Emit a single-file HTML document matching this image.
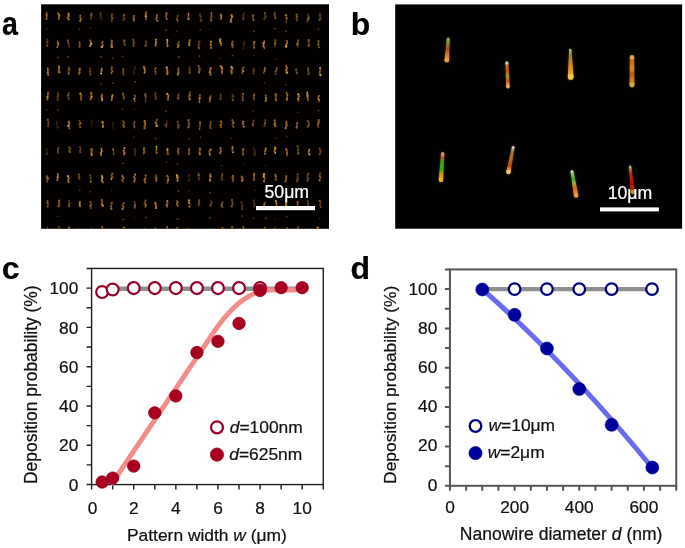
<!DOCTYPE html><html><head><meta charset="utf-8"><style>html,body{margin:0;padding:0;background:#fff;width:685px;height:548px;overflow:hidden}svg{display:block;will-change:transform}text{font-family:"Liberation Sans",sans-serif;white-space:pre}</style></head><body>
<svg width="685" height="548" viewBox="0 0 685 548">
<text transform="translate(2.85,35.40) scale(0.88,1)" x="-0.95" y="0" font-size="32.5" font-weight="bold" fill="#000" stroke="#000" stroke-width="0.22">a</text>
<text transform="translate(352.90,35.10)" x="-2.11" y="0" font-size="32" font-weight="bold" fill="#000" stroke="#000" stroke-width="0.22">b</text>
<text transform="translate(3.00,278.80)" x="-1.25" y="0" font-size="32" font-weight="bold" fill="#000" stroke="#000" stroke-width="0.22">c</text>
<text transform="translate(351.90,278.70)" x="-1.31" y="0" font-size="32" font-weight="bold" fill="#000" stroke="#000" stroke-width="0.22">d</text>
<rect x="41.1" y="4.3" width="287.9" height="224.5" fill="#020100"/>
<defs><filter id="bl" x="-50%" y="-50%" width="200%" height="200%"><feGaussianBlur stdDeviation="0.55"/></filter><filter id="bl2" x="-50%" y="-50%" width="200%" height="200%"><feGaussianBlur stdDeviation="0.55"/></filter></defs>
<clipPath id="ca"><rect x="41.1" y="4.3" width="287.9" height="224.5"/></clipPath><g clip-path="url(#ca)"><g filter="url(#bl)">
<ellipse cx="46.5" cy="13.1" rx="0.84" ry="1.23" fill="rgb(132, 91, 28)"/>
<ellipse cx="46.7" cy="15.0" rx="1.17" ry="1.23" fill="rgb(148, 102, 32)"/>
<ellipse cx="46.7" cy="16.7" rx="0.83" ry="1.23" fill="rgb(148, 110, 62)"/>
<ellipse cx="46.4" cy="19.0" rx="1.19" ry="1.23" fill="rgb(124, 89, 31)"/>
<circle cx="46.6" cy="28.7" r="0.72" fill="rgb(80,62,36)"/>
<ellipse cx="58.2" cy="13.5" rx="1.02" ry="1.18" fill="rgb(158, 100, 30)"/>
<ellipse cx="59.1" cy="15.3" rx="1.00" ry="1.18" fill="rgb(162, 127, 56)"/>
<ellipse cx="59.1" cy="16.9" rx="0.84" ry="1.18" fill="rgb(155, 115, 65)"/>
<ellipse cx="58.7" cy="18.7" rx="0.93" ry="1.18" fill="rgb(156, 93, 24)"/>
<ellipse cx="68.6" cy="13.7" rx="1.19" ry="1.22" fill="rgb(170, 117, 36)"/>
<ellipse cx="68.6" cy="15.8" rx="1.16" ry="1.22" fill="rgb(164, 113, 35)"/>
<ellipse cx="67.9" cy="17.4" rx="1.10" ry="1.22" fill="rgb(155, 92, 24)"/>
<ellipse cx="68.6" cy="19.3" rx="1.11" ry="1.22" fill="rgb(158, 118, 66)"/>
<ellipse cx="80.3" cy="15.6" rx="0.86" ry="1.17" fill="rgb(145, 104, 36)"/>
<ellipse cx="80.2" cy="17.2" rx="1.00" ry="1.17" fill="rgb(104, 81, 36)"/>
<ellipse cx="80.8" cy="19.2" rx="0.93" ry="1.17" fill="rgb(154, 121, 53)"/>
<ellipse cx="80.1" cy="20.9" rx="0.87" ry="1.17" fill="rgb(160, 125, 55)"/>
<circle cx="79.4" cy="29.1" r="0.79" fill="rgb(80,62,36)"/>
<ellipse cx="91.5" cy="13.7" rx="1.23" ry="1.18" fill="rgb(98, 73, 41)"/>
<ellipse cx="91.3" cy="15.6" rx="1.15" ry="1.18" fill="rgb(114, 89, 39)"/>
<ellipse cx="91.3" cy="17.6" rx="0.98" ry="1.18" fill="rgb(90, 71, 31)"/>
<ellipse cx="90.8" cy="19.1" rx="0.89" ry="1.18" fill="rgb(73, 52, 18)"/>
<circle cx="90.5" cy="28.4" r="0.60" fill="rgb(80,62,36)"/>
<ellipse cx="100.6" cy="12.9" rx="1.07" ry="1.34" fill="rgb(66, 39, 10)"/>
<ellipse cx="100.6" cy="14.9" rx="1.01" ry="1.34" fill="rgb(74, 58, 25)"/>
<ellipse cx="100.6" cy="16.9" rx="1.13" ry="1.34" fill="rgb(64, 41, 12)"/>
<ellipse cx="101.3" cy="19.0" rx="1.23" ry="1.34" fill="rgb(43, 30, 9)"/>
<ellipse cx="112.2" cy="14.3" rx="1.21" ry="1.37" fill="rgb(89, 53, 14)"/>
<ellipse cx="111.6" cy="16.1" rx="0.95" ry="1.37" fill="rgb(105, 72, 22)"/>
<ellipse cx="112.3" cy="18.1" rx="1.17" ry="1.37" fill="rgb(110, 79, 27)"/>
<ellipse cx="111.6" cy="20.6" rx="1.13" ry="1.37" fill="rgb(92, 63, 19)"/>
<ellipse cx="124.2" cy="14.6" rx="0.96" ry="1.17" fill="rgb(127, 75, 20)"/>
<ellipse cx="123.6" cy="15.9" rx="1.02" ry="1.17" fill="rgb(104, 74, 26)"/>
<ellipse cx="124.1" cy="18.3" rx="1.09" ry="1.17" fill="rgb(109, 69, 20)"/>
<ellipse cx="123.5" cy="20.0" rx="0.97" ry="1.17" fill="rgb(82, 61, 34)"/>
<ellipse cx="134.0" cy="16.1" rx="1.23" ry="1.08" fill="rgb(133, 104, 46)"/>
<ellipse cx="133.4" cy="17.6" rx="1.07" ry="1.08" fill="rgb(105, 75, 26)"/>
<ellipse cx="134.0" cy="19.1" rx="1.24" ry="1.08" fill="rgb(154, 106, 33)"/>
<ellipse cx="133.6" cy="20.9" rx="0.81" ry="1.08" fill="rgb(136, 93, 29)"/>
<ellipse cx="146.0" cy="12.5" rx="0.93" ry="1.38" fill="rgb(146, 93, 27)"/>
<ellipse cx="145.7" cy="14.6" rx="1.18" ry="1.38" fill="rgb(160, 95, 25)"/>
<ellipse cx="145.9" cy="16.6" rx="1.17" ry="1.38" fill="rgb(187, 146, 64)"/>
<ellipse cx="146.0" cy="19.1" rx="0.87" ry="1.38" fill="rgb(134, 92, 29)"/>
<ellipse cx="156.9" cy="15.1" rx="0.95" ry="1.10" fill="rgb(156, 99, 29)"/>
<ellipse cx="156.8" cy="17.1" rx="0.83" ry="1.10" fill="rgb(180, 115, 34)"/>
<ellipse cx="156.2" cy="18.5" rx="1.05" ry="1.10" fill="rgb(152, 97, 29)"/>
<ellipse cx="157.2" cy="20.7" rx="1.24" ry="1.10" fill="rgb(145, 113, 50)"/>
<ellipse cx="166.4" cy="13.4" rx="1.20" ry="1.22" fill="rgb(161, 96, 25)"/>
<ellipse cx="166.3" cy="15.3" rx="1.00" ry="1.22" fill="rgb(120, 94, 41)"/>
<ellipse cx="166.1" cy="17.0" rx="0.94" ry="1.22" fill="rgb(122, 78, 23)"/>
<ellipse cx="166.7" cy="18.9" rx="0.96" ry="1.22" fill="rgb(139, 103, 58)"/>
<circle cx="166.2" cy="30.1" r="0.90" fill="rgb(80,62,36)"/>
<ellipse cx="177.7" cy="15.8" rx="0.89" ry="1.13" fill="rgb(103, 81, 35)"/>
<ellipse cx="177.3" cy="17.2" rx="1.01" ry="1.13" fill="rgb(99, 63, 18)"/>
<ellipse cx="176.9" cy="19.3" rx="1.03" ry="1.13" fill="rgb(112, 77, 24)"/>
<ellipse cx="177.7" cy="20.5" rx="0.85" ry="1.13" fill="rgb(135, 96, 33)"/>
<circle cx="176.9" cy="31.3" r="0.71" fill="rgb(80,62,36)"/>
<ellipse cx="188.5" cy="14.0" rx="0.95" ry="1.14" fill="rgb(179, 123, 38)"/>
<ellipse cx="188.4" cy="15.8" rx="0.83" ry="1.14" fill="rgb(179, 128, 44)"/>
<ellipse cx="188.2" cy="18.1" rx="1.19" ry="1.14" fill="rgb(137, 81, 21)"/>
<ellipse cx="188.5" cy="19.2" rx="1.25" ry="1.14" fill="rgb(144, 113, 50)"/>
<ellipse cx="200.0" cy="14.7" rx="0.94" ry="1.36" fill="rgb(83, 59, 20)"/>
<ellipse cx="200.6" cy="16.3" rx="1.10" ry="1.36" fill="rgb(87, 52, 13)"/>
<ellipse cx="200.7" cy="18.3" rx="0.81" ry="1.36" fill="rgb(69, 41, 11)"/>
<ellipse cx="200.9" cy="20.6" rx="1.22" ry="1.36" fill="rgb(93, 64, 20)"/>
<circle cx="200.2" cy="29.9" r="0.80" fill="rgb(80,62,36)"/>
<ellipse cx="211.4" cy="13.5" rx="0.86" ry="1.38" fill="rgb(144, 107, 60)"/>
<ellipse cx="211.6" cy="16.1" rx="1.08" ry="1.38" fill="rgb(110, 79, 27)"/>
<ellipse cx="211.0" cy="18.1" rx="1.18" ry="1.38" fill="rgb(113, 72, 21)"/>
<ellipse cx="211.2" cy="20.3" rx="1.11" ry="1.38" fill="rgb(140, 83, 22)"/>
<circle cx="209.8" cy="29.3" r="0.60" fill="rgb(80,62,36)"/>
<ellipse cx="220.7" cy="14.4" rx="0.97" ry="1.07" fill="rgb(146, 105, 36)"/>
<ellipse cx="221.1" cy="15.7" rx="1.15" ry="1.07" fill="rgb(170, 121, 42)"/>
<ellipse cx="221.5" cy="17.1" rx="0.82" ry="1.07" fill="rgb(184, 132, 46)"/>
<ellipse cx="220.8" cy="18.7" rx="1.23" ry="1.07" fill="rgb(154, 110, 38)"/>
<ellipse cx="231.6" cy="15.4" rx="1.09" ry="1.30" fill="rgb(177, 105, 28)"/>
<ellipse cx="232.0" cy="16.9" rx="1.13" ry="1.30" fill="rgb(177, 122, 38)"/>
<ellipse cx="231.1" cy="19.5" rx="1.06" ry="1.30" fill="rgb(188, 129, 40)"/>
<ellipse cx="231.0" cy="21.5" rx="1.20" ry="1.30" fill="rgb(161, 120, 67)"/>
<ellipse cx="243.8" cy="13.3" rx="0.81" ry="1.17" fill="rgb(72, 50, 15)"/>
<ellipse cx="243.1" cy="15.4" rx="1.16" ry="1.17" fill="rgb(67, 40, 10)"/>
<ellipse cx="243.4" cy="17.4" rx="1.04" ry="1.17" fill="rgb(74, 51, 16)"/>
<ellipse cx="243.4" cy="19.2" rx="0.91" ry="1.17" fill="rgb(110, 70, 21)"/>
<ellipse cx="253.2" cy="15.4" rx="1.09" ry="1.08" fill="rgb(145, 92, 27)"/>
<ellipse cx="253.0" cy="16.4" rx="1.11" ry="1.08" fill="rgb(139, 82, 21)"/>
<ellipse cx="253.0" cy="18.5" rx="0.92" ry="1.08" fill="rgb(112, 88, 39)"/>
<ellipse cx="253.7" cy="20.2" rx="1.12" ry="1.08" fill="rgb(125, 93, 52)"/>
<circle cx="253.9" cy="31.3" r="1.00" fill="rgb(80,62,36)"/>
<ellipse cx="264.9" cy="13.5" rx="0.97" ry="1.15" fill="rgb(129, 101, 44)"/>
<ellipse cx="265.4" cy="16.0" rx="0.86" ry="1.15" fill="rgb(103, 66, 19)"/>
<ellipse cx="265.5" cy="17.4" rx="1.08" ry="1.15" fill="rgb(107, 76, 26)"/>
<ellipse cx="264.4" cy="19.0" rx="1.20" ry="1.15" fill="rgb(82, 48, 12)"/>
<ellipse cx="274.7" cy="12.7" rx="0.95" ry="1.15" fill="rgb(108, 64, 17)"/>
<ellipse cx="274.6" cy="14.6" rx="1.22" ry="1.15" fill="rgb(119, 93, 41)"/>
<ellipse cx="275.3" cy="16.7" rx="0.83" ry="1.15" fill="rgb(116, 69, 18)"/>
<ellipse cx="275.3" cy="18.2" rx="0.99" ry="1.15" fill="rgb(130, 83, 25)"/>
<circle cx="274.8" cy="28.6" r="0.93" fill="rgb(80,62,36)"/>
<ellipse cx="286.0" cy="15.3" rx="1.17" ry="1.22" fill="rgb(143, 112, 49)"/>
<ellipse cx="286.7" cy="17.6" rx="1.12" ry="1.22" fill="rgb(117, 81, 25)"/>
<ellipse cx="286.5" cy="19.0" rx="0.86" ry="1.22" fill="rgb(127, 100, 44)"/>
<ellipse cx="286.2" cy="21.5" rx="1.01" ry="1.22" fill="rgb(93, 64, 20)"/>
<circle cx="286.2" cy="31.2" r="0.99" fill="rgb(80,62,36)"/>
<ellipse cx="296.6" cy="14.6" rx="1.17" ry="1.18" fill="rgb(123, 88, 30)"/>
<ellipse cx="297.0" cy="16.7" rx="1.00" ry="1.18" fill="rgb(142, 84, 22)"/>
<ellipse cx="296.6" cy="18.2" rx="1.05" ry="1.18" fill="rgb(102, 65, 19)"/>
<ellipse cx="296.9" cy="20.2" rx="0.81" ry="1.18" fill="rgb(102, 70, 22)"/>
<ellipse cx="308.2" cy="14.8" rx="1.03" ry="1.30" fill="rgb(86, 51, 13)"/>
<ellipse cx="308.5" cy="16.9" rx="1.20" ry="1.30" fill="rgb(91, 65, 22)"/>
<ellipse cx="308.3" cy="18.7" rx="1.18" ry="1.30" fill="rgb(142, 112, 49)"/>
<ellipse cx="307.5" cy="21.1" rx="1.14" ry="1.30" fill="rgb(108, 69, 20)"/>
<ellipse cx="320.0" cy="14.0" rx="0.85" ry="1.36" fill="rgb(90, 70, 31)"/>
<ellipse cx="320.1" cy="15.7" rx="1.17" ry="1.36" fill="rgb(73, 54, 30)"/>
<ellipse cx="320.5" cy="18.3" rx="1.15" ry="1.36" fill="rgb(82, 64, 28)"/>
<ellipse cx="319.6" cy="19.8" rx="1.09" ry="1.36" fill="rgb(117, 80, 25)"/>
<circle cx="318.5" cy="29.2" r="0.85" fill="rgb(80,62,36)"/>
<ellipse cx="47.3" cy="39.7" rx="1.04" ry="1.25" fill="rgb(73, 50, 15)"/>
<ellipse cx="47.4" cy="42.1" rx="1.20" ry="1.25" fill="rgb(99, 59, 15)"/>
<ellipse cx="47.3" cy="43.6" rx="0.99" ry="1.25" fill="rgb(77, 55, 19)"/>
<ellipse cx="47.1" cy="45.7" rx="1.10" ry="1.25" fill="rgb(100, 71, 25)"/>
<ellipse cx="57.6" cy="41.8" rx="0.80" ry="1.07" fill="rgb(159, 118, 66)"/>
<ellipse cx="58.2" cy="43.4" rx="1.24" ry="1.07" fill="rgb(157, 100, 30)"/>
<ellipse cx="58.1" cy="45.0" rx="0.92" ry="1.07" fill="rgb(184, 132, 46)"/>
<ellipse cx="57.3" cy="47.1" rx="0.88" ry="1.07" fill="rgb(181, 124, 39)"/>
<circle cx="58.0" cy="57.6" r="0.98" fill="rgb(80,62,36)"/>
<ellipse cx="67.9" cy="40.6" rx="1.12" ry="1.10" fill="rgb(114, 89, 39)"/>
<ellipse cx="68.0" cy="42.6" rx="0.95" ry="1.10" fill="rgb(136, 86, 26)"/>
<ellipse cx="68.9" cy="44.1" rx="0.94" ry="1.10" fill="rgb(101, 75, 42)"/>
<ellipse cx="68.8" cy="46.3" rx="0.85" ry="1.10" fill="rgb(103, 61, 16)"/>
<circle cx="68.2" cy="56.7" r="0.95" fill="rgb(80,62,36)"/>
<ellipse cx="79.5" cy="42.2" rx="0.97" ry="1.16" fill="rgb(116, 86, 48)"/>
<ellipse cx="79.7" cy="44.1" rx="1.01" ry="1.16" fill="rgb(136, 81, 21)"/>
<ellipse cx="79.7" cy="45.6" rx="0.82" ry="1.16" fill="rgb(133, 99, 55)"/>
<ellipse cx="79.5" cy="46.9" rx="1.14" ry="1.16" fill="rgb(114, 72, 21)"/>
<ellipse cx="90.3" cy="40.7" rx="1.12" ry="1.14" fill="rgb(159, 94, 25)"/>
<ellipse cx="90.9" cy="42.4" rx="0.91" ry="1.14" fill="rgb(143, 91, 27)"/>
<ellipse cx="91.1" cy="44.0" rx="1.21" ry="1.14" fill="rgb(222, 174, 77)"/>
<ellipse cx="90.1" cy="46.1" rx="1.16" ry="1.14" fill="rgb(164, 129, 57)"/>
<ellipse cx="102.6" cy="41.9" rx="0.98" ry="1.16" fill="rgb(152, 97, 29)"/>
<ellipse cx="102.2" cy="43.5" rx="1.05" ry="1.16" fill="rgb(107, 80, 45)"/>
<ellipse cx="102.8" cy="45.4" rx="0.92" ry="1.16" fill="rgb(188, 120, 36)"/>
<ellipse cx="101.8" cy="47.0" rx="1.24" ry="1.16" fill="rgb(196, 153, 68)"/>
<circle cx="100.9" cy="56.8" r="0.96" fill="rgb(80,62,36)"/>
<ellipse cx="111.8" cy="40.8" rx="1.13" ry="1.31" fill="rgb(149, 88, 23)"/>
<ellipse cx="111.8" cy="42.7" rx="0.93" ry="1.31" fill="rgb(150, 107, 37)"/>
<ellipse cx="111.7" cy="45.3" rx="1.25" ry="1.31" fill="rgb(160, 102, 30)"/>
<ellipse cx="111.8" cy="47.0" rx="1.25" ry="1.31" fill="rgb(181, 115, 34)"/>
<circle cx="112.5" cy="58.2" r="0.94" fill="rgb(80,62,36)"/>
<ellipse cx="124.3" cy="40.3" rx="1.19" ry="1.12" fill="rgb(113, 72, 21)"/>
<ellipse cx="123.9" cy="41.6" rx="0.85" ry="1.12" fill="rgb(134, 99, 56)"/>
<ellipse cx="124.3" cy="43.4" rx="0.95" ry="1.12" fill="rgb(95, 68, 23)"/>
<ellipse cx="124.8" cy="44.7" rx="1.09" ry="1.12" fill="rgb(126, 80, 24)"/>
<circle cx="122.5" cy="56.3" r="0.87" fill="rgb(80,62,36)"/>
<ellipse cx="133.3" cy="40.1" rx="0.87" ry="1.23" fill="rgb(125, 98, 43)"/>
<ellipse cx="133.9" cy="42.4" rx="0.98" ry="1.23" fill="rgb(127, 99, 44)"/>
<ellipse cx="133.5" cy="44.1" rx="1.05" ry="1.23" fill="rgb(101, 64, 19)"/>
<ellipse cx="133.6" cy="46.0" rx="0.98" ry="1.23" fill="rgb(112, 67, 17)"/>
<ellipse cx="145.8" cy="41.2" rx="0.82" ry="1.09" fill="rgb(89, 64, 22)"/>
<ellipse cx="146.3" cy="42.6" rx="1.08" ry="1.09" fill="rgb(89, 69, 30)"/>
<ellipse cx="146.0" cy="44.4" rx="0.87" ry="1.09" fill="rgb(101, 72, 25)"/>
<ellipse cx="145.5" cy="45.9" rx="1.16" ry="1.09" fill="rgb(110, 86, 38)"/>
<ellipse cx="156.0" cy="39.6" rx="1.12" ry="1.21" fill="rgb(154, 121, 53)"/>
<ellipse cx="156.0" cy="42.0" rx="0.90" ry="1.21" fill="rgb(193, 143, 80)"/>
<ellipse cx="155.9" cy="43.6" rx="0.90" ry="1.21" fill="rgb(163, 128, 56)"/>
<ellipse cx="155.5" cy="45.5" rx="0.87" ry="1.21" fill="rgb(180, 141, 62)"/>
<ellipse cx="167.3" cy="40.1" rx="1.05" ry="1.27" fill="rgb(196, 153, 68)"/>
<ellipse cx="167.3" cy="42.1" rx="0.91" ry="1.27" fill="rgb(169, 133, 58)"/>
<ellipse cx="167.3" cy="43.8" rx="0.81" ry="1.27" fill="rgb(172, 118, 37)"/>
<ellipse cx="167.5" cy="46.0" rx="1.08" ry="1.27" fill="rgb(178, 128, 44)"/>
<ellipse cx="178.8" cy="42.0" rx="0.82" ry="1.17" fill="rgb(130, 89, 28)"/>
<ellipse cx="177.9" cy="44.0" rx="1.12" ry="1.17" fill="rgb(109, 81, 45)"/>
<ellipse cx="178.7" cy="45.4" rx="1.15" ry="1.17" fill="rgb(147, 115, 51)"/>
<ellipse cx="177.9" cy="47.1" rx="1.17" ry="1.17" fill="rgb(144, 99, 31)"/>
<circle cx="178.8" cy="56.9" r="0.98" fill="rgb(80,62,36)"/>
<ellipse cx="189.7" cy="40.3" rx="1.08" ry="1.08" fill="rgb(158, 113, 39)"/>
<ellipse cx="189.4" cy="42.4" rx="1.21" ry="1.08" fill="rgb(160, 95, 25)"/>
<ellipse cx="189.2" cy="43.5" rx="0.97" ry="1.08" fill="rgb(146, 101, 31)"/>
<ellipse cx="189.3" cy="45.1" rx="1.11" ry="1.08" fill="rgb(188, 140, 78)"/>
<ellipse cx="199.4" cy="41.7" rx="1.11" ry="1.26" fill="rgb(102, 70, 22)"/>
<ellipse cx="198.7" cy="44.1" rx="0.98" ry="1.26" fill="rgb(107, 74, 23)"/>
<ellipse cx="198.7" cy="45.9" rx="0.96" ry="1.26" fill="rgb(100, 59, 15)"/>
<ellipse cx="198.9" cy="47.9" rx="1.23" ry="1.26" fill="rgb(110, 79, 27)"/>
<circle cx="199.6" cy="56.2" r="0.99" fill="rgb(80,62,36)"/>
<ellipse cx="210.9" cy="41.9" rx="1.03" ry="1.30" fill="rgb(160, 119, 66)"/>
<ellipse cx="210.7" cy="44.5" rx="0.82" ry="1.30" fill="rgb(194, 139, 48)"/>
<ellipse cx="211.2" cy="45.8" rx="0.96" ry="1.30" fill="rgb(138, 82, 21)"/>
<ellipse cx="211.2" cy="47.9" rx="0.96" ry="1.30" fill="rgb(146, 101, 31)"/>
<ellipse cx="220.3" cy="39.3" rx="0.98" ry="1.20" fill="rgb(178, 132, 74)"/>
<ellipse cx="220.1" cy="41.3" rx="1.20" ry="1.20" fill="rgb(181, 134, 75)"/>
<ellipse cx="220.8" cy="43.4" rx="1.13" ry="1.20" fill="rgb(205, 141, 44)"/>
<ellipse cx="221.2" cy="45.0" rx="0.81" ry="1.20" fill="rgb(134, 86, 25)"/>
<circle cx="220.6" cy="58.6" r="0.64" fill="rgb(80,62,36)"/>
<ellipse cx="232.6" cy="41.6" rx="0.88" ry="1.22" fill="rgb(133, 104, 46)"/>
<ellipse cx="232.2" cy="43.2" rx="1.13" ry="1.22" fill="rgb(137, 87, 26)"/>
<ellipse cx="232.4" cy="45.3" rx="1.14" ry="1.22" fill="rgb(135, 105, 46)"/>
<ellipse cx="232.7" cy="47.1" rx="1.25" ry="1.22" fill="rgb(97, 76, 33)"/>
<circle cx="232.5" cy="55.5" r="0.96" fill="rgb(80,62,36)"/>
<ellipse cx="244.1" cy="42.4" rx="0.93" ry="1.26" fill="rgb(64, 44, 13)"/>
<ellipse cx="244.3" cy="44.6" rx="0.81" ry="1.26" fill="rgb(62, 40, 12)"/>
<ellipse cx="243.5" cy="46.0" rx="0.87" ry="1.26" fill="rgb(41, 30, 17)"/>
<ellipse cx="243.5" cy="48.4" rx="0.91" ry="1.26" fill="rgb(50, 39, 17)"/>
<ellipse cx="254.4" cy="41.9" rx="1.13" ry="1.21" fill="rgb(152, 97, 29)"/>
<ellipse cx="253.9" cy="43.6" rx="1.06" ry="1.21" fill="rgb(152, 109, 38)"/>
<ellipse cx="253.8" cy="45.4" rx="0.85" ry="1.21" fill="rgb(121, 77, 23)"/>
<ellipse cx="254.0" cy="47.6" rx="0.81" ry="1.21" fill="rgb(176, 126, 44)"/>
<circle cx="254.2" cy="55.1" r="0.63" fill="rgb(80,62,36)"/>
<ellipse cx="264.2" cy="41.8" rx="0.85" ry="1.37" fill="rgb(186, 138, 78)"/>
<ellipse cx="263.5" cy="43.7" rx="1.21" ry="1.37" fill="rgb(204, 130, 39)"/>
<ellipse cx="263.5" cy="46.2" rx="1.01" ry="1.37" fill="rgb(163, 121, 68)"/>
<ellipse cx="264.4" cy="47.8" rx="0.94" ry="1.37" fill="rgb(131, 97, 54)"/>
<ellipse cx="275.4" cy="40.3" rx="0.93" ry="1.18" fill="rgb(116, 80, 25)"/>
<ellipse cx="275.2" cy="42.4" rx="1.15" ry="1.18" fill="rgb(115, 73, 22)"/>
<ellipse cx="275.1" cy="43.9" rx="1.12" ry="1.18" fill="rgb(121, 84, 26)"/>
<ellipse cx="274.9" cy="46.1" rx="0.80" ry="1.18" fill="rgb(94, 56, 14)"/>
<circle cx="276.2" cy="58.9" r="0.60" fill="rgb(80,62,36)"/>
<ellipse cx="287.0" cy="40.9" rx="0.87" ry="1.22" fill="rgb(167, 99, 26)"/>
<ellipse cx="287.1" cy="43.2" rx="0.85" ry="1.22" fill="rgb(174, 125, 43)"/>
<ellipse cx="286.1" cy="44.9" rx="0.85" ry="1.22" fill="rgb(161, 119, 67)"/>
<ellipse cx="286.1" cy="46.5" rx="1.14" ry="1.22" fill="rgb(212, 166, 73)"/>
<ellipse cx="298.3" cy="40.4" rx="1.01" ry="1.23" fill="rgb(96, 72, 40)"/>
<ellipse cx="298.0" cy="42.6" rx="0.96" ry="1.23" fill="rgb(128, 88, 27)"/>
<ellipse cx="297.3" cy="44.3" rx="1.13" ry="1.23" fill="rgb(136, 107, 47)"/>
<ellipse cx="297.6" cy="46.1" rx="0.86" ry="1.23" fill="rgb(119, 70, 18)"/>
<ellipse cx="308.6" cy="40.4" rx="1.13" ry="1.28" fill="rgb(138, 99, 34)"/>
<ellipse cx="308.8" cy="42.2" rx="0.89" ry="1.28" fill="rgb(103, 74, 25)"/>
<ellipse cx="309.3" cy="44.5" rx="1.10" ry="1.28" fill="rgb(92, 58, 17)"/>
<ellipse cx="308.6" cy="45.8" rx="1.13" ry="1.28" fill="rgb(128, 92, 32)"/>
<ellipse cx="318.5" cy="41.2" rx="1.03" ry="1.18" fill="rgb(116, 91, 40)"/>
<ellipse cx="318.6" cy="43.5" rx="1.13" ry="1.18" fill="rgb(91, 65, 22)"/>
<ellipse cx="318.3" cy="44.8" rx="1.06" ry="1.18" fill="rgb(116, 91, 40)"/>
<ellipse cx="319.1" cy="47.1" rx="1.20" ry="1.18" fill="rgb(103, 76, 43)"/>
<ellipse cx="47.8" cy="68.8" rx="0.91" ry="1.20" fill="rgb(189, 121, 36)"/>
<ellipse cx="47.9" cy="70.7" rx="0.99" ry="1.20" fill="rgb(142, 102, 35)"/>
<ellipse cx="47.8" cy="72.6" rx="1.10" ry="1.20" fill="rgb(167, 131, 58)"/>
<ellipse cx="48.1" cy="74.8" rx="0.97" ry="1.20" fill="rgb(170, 101, 26)"/>
<ellipse cx="59.1" cy="66.6" rx="1.01" ry="1.31" fill="rgb(170, 108, 32)"/>
<ellipse cx="59.0" cy="68.0" rx="1.17" ry="1.31" fill="rgb(155, 99, 29)"/>
<ellipse cx="58.9" cy="70.3" rx="1.11" ry="1.31" fill="rgb(130, 102, 45)"/>
<ellipse cx="59.3" cy="72.2" rx="1.08" ry="1.31" fill="rgb(161, 103, 30)"/>
<ellipse cx="68.8" cy="67.3" rx="0.90" ry="1.35" fill="rgb(85, 58, 18)"/>
<ellipse cx="69.1" cy="69.4" rx="1.25" ry="1.35" fill="rgb(118, 81, 25)"/>
<ellipse cx="68.6" cy="71.7" rx="1.15" ry="1.35" fill="rgb(81, 58, 20)"/>
<ellipse cx="68.8" cy="73.7" rx="1.12" ry="1.35" fill="rgb(108, 85, 37)"/>
<ellipse cx="79.6" cy="68.8" rx="1.18" ry="1.19" fill="rgb(130, 97, 54)"/>
<ellipse cx="79.7" cy="70.1" rx="1.11" ry="1.19" fill="rgb(181, 107, 28)"/>
<ellipse cx="79.5" cy="72.4" rx="1.12" ry="1.19" fill="rgb(137, 107, 47)"/>
<ellipse cx="79.0" cy="73.7" rx="1.02" ry="1.19" fill="rgb(150, 89, 23)"/>
<ellipse cx="90.1" cy="68.8" rx="0.86" ry="1.18" fill="rgb(114, 68, 18)"/>
<ellipse cx="90.2" cy="71.2" rx="0.89" ry="1.18" fill="rgb(114, 73, 21)"/>
<ellipse cx="89.8" cy="72.4" rx="0.86" ry="1.18" fill="rgb(84, 58, 18)"/>
<ellipse cx="90.4" cy="74.3" rx="0.89" ry="1.18" fill="rgb(114, 68, 18)"/>
<ellipse cx="101.8" cy="68.8" rx="0.89" ry="1.09" fill="rgb(170, 126, 71)"/>
<ellipse cx="101.8" cy="70.3" rx="1.10" ry="1.09" fill="rgb(170, 126, 71)"/>
<ellipse cx="101.3" cy="71.5" rx="0.86" ry="1.09" fill="rgb(145, 113, 50)"/>
<ellipse cx="101.2" cy="73.5" rx="1.12" ry="1.09" fill="rgb(199, 156, 69)"/>
<circle cx="101.0" cy="84.1" r="0.89" fill="rgb(80,62,36)"/>
<ellipse cx="111.9" cy="67.4" rx="1.09" ry="1.15" fill="rgb(116, 86, 48)"/>
<ellipse cx="111.4" cy="69.3" rx="1.13" ry="1.15" fill="rgb(123, 85, 26)"/>
<ellipse cx="112.3" cy="71.4" rx="1.02" ry="1.15" fill="rgb(161, 103, 30)"/>
<ellipse cx="111.4" cy="73.1" rx="0.86" ry="1.15" fill="rgb(141, 105, 59)"/>
<circle cx="112.9" cy="83.1" r="0.91" fill="rgb(80,62,36)"/>
<ellipse cx="123.3" cy="68.9" rx="0.98" ry="1.14" fill="rgb(131, 77, 20)"/>
<ellipse cx="123.3" cy="71.0" rx="0.89" ry="1.14" fill="rgb(109, 75, 23)"/>
<ellipse cx="123.1" cy="72.7" rx="0.93" ry="1.14" fill="rgb(111, 79, 27)"/>
<ellipse cx="123.7" cy="74.6" rx="1.05" ry="1.14" fill="rgb(113, 72, 21)"/>
<ellipse cx="134.8" cy="67.3" rx="1.21" ry="1.32" fill="rgb(52, 33, 10)"/>
<ellipse cx="134.6" cy="69.4" rx="1.11" ry="1.32" fill="rgb(45, 33, 19)"/>
<ellipse cx="133.9" cy="71.7" rx="1.01" ry="1.32" fill="rgb(49, 31, 9)"/>
<ellipse cx="134.0" cy="73.6" rx="0.99" ry="1.32" fill="rgb(55, 39, 13)"/>
<circle cx="135.2" cy="81.8" r="0.95" fill="rgb(80,62,36)"/>
<ellipse cx="144.0" cy="67.1" rx="1.22" ry="1.12" fill="rgb(171, 118, 36)"/>
<ellipse cx="144.6" cy="68.9" rx="1.15" ry="1.12" fill="rgb(187, 119, 35)"/>
<ellipse cx="144.8" cy="70.9" rx="0.81" ry="1.12" fill="rgb(164, 129, 57)"/>
<ellipse cx="144.6" cy="72.6" rx="1.01" ry="1.12" fill="rgb(183, 136, 76)"/>
<ellipse cx="155.6" cy="68.2" rx="1.19" ry="1.06" fill="rgb(139, 88, 26)"/>
<ellipse cx="154.9" cy="70.0" rx="1.12" ry="1.06" fill="rgb(89, 70, 31)"/>
<ellipse cx="155.6" cy="71.7" rx="0.96" ry="1.06" fill="rgb(138, 99, 34)"/>
<ellipse cx="155.6" cy="73.7" rx="0.84" ry="1.06" fill="rgb(127, 91, 31)"/>
<ellipse cx="166.7" cy="67.5" rx="1.11" ry="1.37" fill="rgb(218, 139, 41)"/>
<ellipse cx="167.2" cy="69.6" rx="0.87" ry="1.37" fill="rgb(193, 115, 30)"/>
<ellipse cx="167.3" cy="71.9" rx="1.23" ry="1.37" fill="rgb(168, 107, 32)"/>
<ellipse cx="167.3" cy="73.9" rx="1.16" ry="1.37" fill="rgb(155, 111, 38)"/>
<ellipse cx="178.4" cy="68.4" rx="0.93" ry="1.31" fill="rgb(120, 83, 26)"/>
<ellipse cx="178.3" cy="70.1" rx="1.07" ry="1.31" fill="rgb(120, 83, 26)"/>
<ellipse cx="178.5" cy="72.4" rx="1.06" ry="1.31" fill="rgb(152, 105, 32)"/>
<ellipse cx="177.8" cy="74.4" rx="1.07" ry="1.31" fill="rgb(151, 118, 52)"/>
<ellipse cx="189.6" cy="67.3" rx="0.86" ry="1.19" fill="rgb(82, 52, 15)"/>
<ellipse cx="189.8" cy="69.4" rx="1.18" ry="1.19" fill="rgb(83, 59, 20)"/>
<ellipse cx="189.5" cy="71.2" rx="0.84" ry="1.19" fill="rgb(88, 69, 30)"/>
<ellipse cx="189.6" cy="72.8" rx="1.12" ry="1.19" fill="rgb(106, 76, 26)"/>
<ellipse cx="198.6" cy="66.2" rx="0.84" ry="1.36" fill="rgb(133, 104, 46)"/>
<ellipse cx="199.5" cy="68.5" rx="1.03" ry="1.36" fill="rgb(127, 91, 31)"/>
<ellipse cx="199.6" cy="70.2" rx="1.07" ry="1.36" fill="rgb(122, 72, 19)"/>
<ellipse cx="198.9" cy="72.2" rx="0.93" ry="1.36" fill="rgb(153, 110, 38)"/>
<ellipse cx="210.6" cy="68.3" rx="1.15" ry="1.36" fill="rgb(177, 105, 28)"/>
<ellipse cx="210.3" cy="70.2" rx="1.07" ry="1.36" fill="rgb(149, 88, 23)"/>
<ellipse cx="209.8" cy="72.2" rx="1.06" ry="1.36" fill="rgb(173, 119, 37)"/>
<ellipse cx="210.5" cy="74.4" rx="1.00" ry="1.36" fill="rgb(148, 116, 51)"/>
<ellipse cx="220.9" cy="66.3" rx="1.19" ry="1.38" fill="rgb(180, 115, 34)"/>
<ellipse cx="222.0" cy="68.4" rx="1.09" ry="1.38" fill="rgb(206, 131, 39)"/>
<ellipse cx="221.8" cy="70.9" rx="1.05" ry="1.38" fill="rgb(154, 98, 29)"/>
<ellipse cx="222.1" cy="72.8" rx="0.88" ry="1.38" fill="rgb(161, 119, 67)"/>
<ellipse cx="231.4" cy="67.1" rx="1.18" ry="1.36" fill="rgb(193, 133, 41)"/>
<ellipse cx="232.3" cy="68.4" rx="1.14" ry="1.36" fill="rgb(166, 124, 69)"/>
<ellipse cx="231.5" cy="70.9" rx="1.22" ry="1.36" fill="rgb(173, 103, 27)"/>
<ellipse cx="231.7" cy="73.1" rx="1.09" ry="1.36" fill="rgb(156, 108, 33)"/>
<ellipse cx="243.3" cy="67.8" rx="1.21" ry="1.20" fill="rgb(126, 80, 24)"/>
<ellipse cx="242.4" cy="69.6" rx="1.08" ry="1.20" fill="rgb(104, 74, 26)"/>
<ellipse cx="243.1" cy="71.1" rx="1.22" ry="1.20" fill="rgb(164, 128, 56)"/>
<ellipse cx="242.3" cy="73.0" rx="0.95" ry="1.20" fill="rgb(125, 80, 24)"/>
<ellipse cx="254.0" cy="68.7" rx="0.87" ry="1.07" fill="rgb(104, 74, 26)"/>
<ellipse cx="253.6" cy="70.1" rx="1.18" ry="1.07" fill="rgb(93, 59, 17)"/>
<ellipse cx="253.5" cy="71.7" rx="1.01" ry="1.07" fill="rgb(89, 69, 30)"/>
<ellipse cx="253.5" cy="73.5" rx="1.20" ry="1.07" fill="rgb(81, 56, 17)"/>
<ellipse cx="264.9" cy="67.9" rx="0.84" ry="1.12" fill="rgb(147, 105, 36)"/>
<ellipse cx="264.8" cy="69.5" rx="1.24" ry="1.12" fill="rgb(139, 88, 26)"/>
<ellipse cx="264.5" cy="71.2" rx="0.95" ry="1.12" fill="rgb(143, 112, 49)"/>
<ellipse cx="263.7" cy="72.9" rx="0.96" ry="1.12" fill="rgb(106, 73, 22)"/>
<circle cx="264.6" cy="82.8" r="0.67" fill="rgb(80,62,36)"/>
<ellipse cx="276.8" cy="68.1" rx="0.92" ry="1.25" fill="rgb(104, 77, 43)"/>
<ellipse cx="276.4" cy="69.5" rx="0.89" ry="1.25" fill="rgb(111, 82, 46)"/>
<ellipse cx="275.7" cy="71.5" rx="0.98" ry="1.25" fill="rgb(116, 86, 48)"/>
<ellipse cx="275.8" cy="73.8" rx="1.18" ry="1.25" fill="rgb(99, 59, 15)"/>
<ellipse cx="286.2" cy="65.9" rx="1.12" ry="1.34" fill="rgb(133, 79, 21)"/>
<ellipse cx="287.0" cy="68.2" rx="1.00" ry="1.34" fill="rgb(173, 103, 27)"/>
<ellipse cx="286.1" cy="70.2" rx="1.17" ry="1.34" fill="rgb(146, 108, 61)"/>
<ellipse cx="286.9" cy="72.6" rx="1.20" ry="1.34" fill="rgb(197, 154, 68)"/>
<circle cx="285.8" cy="84.7" r="0.78" fill="rgb(80,62,36)"/>
<ellipse cx="296.2" cy="69.1" rx="1.17" ry="1.09" fill="rgb(86, 51, 13)"/>
<ellipse cx="296.1" cy="70.3" rx="0.92" ry="1.09" fill="rgb(106, 79, 44)"/>
<ellipse cx="296.8" cy="72.7" rx="1.12" ry="1.09" fill="rgb(110, 86, 38)"/>
<ellipse cx="297.0" cy="73.7" rx="0.92" ry="1.09" fill="rgb(80, 60, 33)"/>
<ellipse cx="308.2" cy="68.4" rx="1.06" ry="1.34" fill="rgb(86, 62, 21)"/>
<ellipse cx="308.1" cy="70.6" rx="0.97" ry="1.34" fill="rgb(124, 79, 23)"/>
<ellipse cx="308.9" cy="72.4" rx="1.24" ry="1.34" fill="rgb(78, 53, 16)"/>
<ellipse cx="308.3" cy="74.2" rx="0.95" ry="1.34" fill="rgb(93, 73, 32)"/>
<ellipse cx="320.1" cy="68.1" rx="0.91" ry="1.33" fill="rgb(202, 150, 84)"/>
<ellipse cx="320.2" cy="70.5" rx="0.88" ry="1.33" fill="rgb(139, 83, 22)"/>
<ellipse cx="319.7" cy="72.4" rx="0.86" ry="1.33" fill="rgb(128, 95, 53)"/>
<ellipse cx="320.4" cy="75.0" rx="1.16" ry="1.33" fill="rgb(202, 158, 70)"/>
<ellipse cx="48.0" cy="92.9" rx="0.91" ry="1.28" fill="rgb(164, 105, 31)"/>
<ellipse cx="47.9" cy="95.0" rx="0.94" ry="1.28" fill="rgb(139, 88, 26)"/>
<ellipse cx="47.5" cy="97.1" rx="1.21" ry="1.28" fill="rgb(187, 129, 40)"/>
<ellipse cx="47.5" cy="99.3" rx="0.87" ry="1.28" fill="rgb(155, 107, 33)"/>
<circle cx="46.6" cy="109.7" r="0.76" fill="rgb(80,62,36)"/>
<ellipse cx="57.9" cy="93.7" rx="1.05" ry="1.33" fill="rgb(86, 64, 36)"/>
<ellipse cx="58.3" cy="95.5" rx="1.01" ry="1.33" fill="rgb(99, 59, 15)"/>
<ellipse cx="57.5" cy="97.5" rx="1.05" ry="1.33" fill="rgb(86, 62, 21)"/>
<ellipse cx="57.7" cy="100.1" rx="1.23" ry="1.33" fill="rgb(79, 46, 12)"/>
<circle cx="57.8" cy="109.6" r="0.95" fill="rgb(80,62,36)"/>
<ellipse cx="68.7" cy="93.1" rx="1.00" ry="1.25" fill="rgb(87, 60, 18)"/>
<ellipse cx="68.1" cy="95.3" rx="1.10" ry="1.25" fill="rgb(118, 84, 29)"/>
<ellipse cx="68.4" cy="97.4" rx="1.10" ry="1.25" fill="rgb(79, 59, 33)"/>
<ellipse cx="69.0" cy="99.1" rx="1.19" ry="1.25" fill="rgb(74, 51, 15)"/>
<ellipse cx="80.3" cy="93.7" rx="1.06" ry="1.28" fill="rgb(181, 142, 63)"/>
<ellipse cx="81.4" cy="95.7" rx="1.18" ry="1.28" fill="rgb(126, 87, 27)"/>
<ellipse cx="81.0" cy="97.5" rx="1.00" ry="1.28" fill="rgb(145, 92, 27)"/>
<ellipse cx="81.1" cy="99.6" rx="1.04" ry="1.28" fill="rgb(135, 80, 21)"/>
<ellipse cx="91.1" cy="93.0" rx="0.97" ry="1.18" fill="rgb(164, 117, 41)"/>
<ellipse cx="91.5" cy="94.8" rx="1.18" ry="1.18" fill="rgb(143, 85, 22)"/>
<ellipse cx="91.6" cy="97.1" rx="1.20" ry="1.18" fill="rgb(208, 149, 52)"/>
<ellipse cx="90.5" cy="99.0" rx="1.02" ry="1.18" fill="rgb(161, 96, 25)"/>
<ellipse cx="102.0" cy="94.8" rx="1.10" ry="1.22" fill="rgb(140, 83, 22)"/>
<ellipse cx="101.6" cy="96.5" rx="0.84" ry="1.22" fill="rgb(193, 123, 37)"/>
<ellipse cx="102.1" cy="98.4" rx="0.87" ry="1.22" fill="rgb(228, 157, 49)"/>
<ellipse cx="102.1" cy="100.1" rx="1.08" ry="1.22" fill="rgb(193, 151, 67)"/>
<ellipse cx="112.7" cy="95.2" rx="1.10" ry="1.16" fill="rgb(143, 99, 30)"/>
<ellipse cx="112.1" cy="96.4" rx="0.99" ry="1.16" fill="rgb(202, 139, 43)"/>
<ellipse cx="112.0" cy="98.1" rx="1.20" ry="1.16" fill="rgb(146, 100, 31)"/>
<ellipse cx="111.7" cy="100.1" rx="0.96" ry="1.16" fill="rgb(179, 123, 38)"/>
<ellipse cx="123.1" cy="93.5" rx="0.84" ry="1.16" fill="rgb(118, 70, 18)"/>
<ellipse cx="123.1" cy="94.8" rx="1.05" ry="1.16" fill="rgb(135, 96, 33)"/>
<ellipse cx="123.9" cy="96.7" rx="0.86" ry="1.16" fill="rgb(131, 90, 28)"/>
<ellipse cx="123.8" cy="98.5" rx="1.14" ry="1.16" fill="rgb(112, 80, 28)"/>
<circle cx="122.6" cy="109.2" r="0.81" fill="rgb(80,62,36)"/>
<ellipse cx="134.7" cy="95.5" rx="0.92" ry="1.06" fill="rgb(137, 102, 57)"/>
<ellipse cx="135.0" cy="96.6" rx="0.89" ry="1.06" fill="rgb(133, 92, 28)"/>
<ellipse cx="134.3" cy="98.7" rx="1.06" ry="1.06" fill="rgb(208, 149, 52)"/>
<ellipse cx="134.8" cy="100.6" rx="0.90" ry="1.06" fill="rgb(148, 102, 31)"/>
<circle cx="134.5" cy="109.2" r="0.60" fill="rgb(80,62,36)"/>
<ellipse cx="145.3" cy="94.6" rx="1.12" ry="1.34" fill="rgb(115, 85, 48)"/>
<ellipse cx="145.6" cy="96.0" rx="1.16" ry="1.34" fill="rgb(120, 89, 50)"/>
<ellipse cx="145.5" cy="98.1" rx="0.80" ry="1.34" fill="rgb(118, 70, 18)"/>
<ellipse cx="145.7" cy="100.7" rx="1.04" ry="1.34" fill="rgb(102, 60, 16)"/>
<ellipse cx="155.5" cy="93.2" rx="1.00" ry="1.17" fill="rgb(90, 53, 14)"/>
<ellipse cx="155.3" cy="95.0" rx="0.86" ry="1.17" fill="rgb(92, 66, 23)"/>
<ellipse cx="155.9" cy="96.8" rx="1.01" ry="1.17" fill="rgb(108, 77, 27)"/>
<ellipse cx="155.6" cy="99.0" rx="1.13" ry="1.17" fill="rgb(90, 54, 14)"/>
<ellipse cx="167.3" cy="93.9" rx="1.07" ry="1.13" fill="rgb(211, 157, 88)"/>
<ellipse cx="168.3" cy="95.6" rx="1.07" ry="1.13" fill="rgb(161, 111, 34)"/>
<ellipse cx="168.2" cy="97.2" rx="0.84" ry="1.13" fill="rgb(202, 129, 38)"/>
<ellipse cx="168.0" cy="99.4" rx="1.12" ry="1.13" fill="rgb(149, 117, 51)"/>
<circle cx="166.0" cy="111.4" r="0.88" fill="rgb(80,62,36)"/>
<ellipse cx="178.7" cy="94.4" rx="1.12" ry="1.08" fill="rgb(88, 52, 13)"/>
<ellipse cx="178.1" cy="95.4" rx="0.96" ry="1.08" fill="rgb(95, 71, 40)"/>
<ellipse cx="178.3" cy="97.7" rx="1.19" ry="1.08" fill="rgb(119, 88, 50)"/>
<ellipse cx="178.0" cy="98.8" rx="1.16" ry="1.08" fill="rgb(102, 65, 19)"/>
<ellipse cx="189.9" cy="92.7" rx="0.85" ry="1.38" fill="rgb(136, 87, 26)"/>
<ellipse cx="189.7" cy="95.3" rx="0.98" ry="1.38" fill="rgb(160, 119, 67)"/>
<ellipse cx="189.3" cy="97.1" rx="1.13" ry="1.38" fill="rgb(127, 75, 20)"/>
<ellipse cx="189.6" cy="99.2" rx="0.90" ry="1.38" fill="rgb(170, 122, 42)"/>
<ellipse cx="199.9" cy="95.2" rx="0.82" ry="1.36" fill="rgb(129, 96, 54)"/>
<ellipse cx="199.7" cy="97.9" rx="1.11" ry="1.36" fill="rgb(194, 124, 37)"/>
<ellipse cx="199.4" cy="99.4" rx="0.84" ry="1.36" fill="rgb(167, 99, 26)"/>
<ellipse cx="199.5" cy="102.0" rx="0.90" ry="1.36" fill="rgb(152, 113, 64)"/>
<ellipse cx="210.6" cy="96.1" rx="0.82" ry="1.22" fill="rgb(121, 90, 50)"/>
<ellipse cx="210.1" cy="98.0" rx="1.15" ry="1.22" fill="rgb(156, 107, 33)"/>
<ellipse cx="209.8" cy="99.7" rx="1.05" ry="1.22" fill="rgb(143, 106, 60)"/>
<ellipse cx="209.8" cy="101.3" rx="0.92" ry="1.22" fill="rgb(108, 80, 45)"/>
<ellipse cx="220.7" cy="94.6" rx="0.91" ry="1.10" fill="rgb(91, 71, 31)"/>
<ellipse cx="220.7" cy="96.1" rx="0.93" ry="1.10" fill="rgb(85, 63, 35)"/>
<ellipse cx="220.3" cy="98.1" rx="1.08" ry="1.10" fill="rgb(86, 59, 18)"/>
<ellipse cx="220.6" cy="99.2" rx="0.87" ry="1.10" fill="rgb(111, 79, 27)"/>
<ellipse cx="232.3" cy="94.7" rx="0.85" ry="1.06" fill="rgb(95, 56, 15)"/>
<ellipse cx="233.4" cy="96.2" rx="1.01" ry="1.06" fill="rgb(104, 74, 26)"/>
<ellipse cx="232.4" cy="97.8" rx="1.01" ry="1.06" fill="rgb(87, 55, 16)"/>
<ellipse cx="232.8" cy="100.0" rx="1.24" ry="1.06" fill="rgb(113, 84, 47)"/>
<ellipse cx="242.9" cy="94.1" rx="1.08" ry="1.23" fill="rgb(110, 82, 46)"/>
<ellipse cx="242.6" cy="96.6" rx="0.86" ry="1.23" fill="rgb(108, 80, 45)"/>
<ellipse cx="242.7" cy="97.9" rx="0.88" ry="1.23" fill="rgb(123, 88, 30)"/>
<ellipse cx="242.8" cy="100.3" rx="1.15" ry="1.23" fill="rgb(103, 76, 43)"/>
<ellipse cx="254.4" cy="94.1" rx="0.91" ry="1.16" fill="rgb(120, 71, 19)"/>
<ellipse cx="253.9" cy="95.6" rx="1.25" ry="1.16" fill="rgb(120, 90, 50)"/>
<ellipse cx="253.8" cy="97.7" rx="1.02" ry="1.16" fill="rgb(111, 80, 27)"/>
<ellipse cx="254.1" cy="99.3" rx="0.86" ry="1.16" fill="rgb(115, 79, 24)"/>
<circle cx="253.2" cy="111.1" r="0.76" fill="rgb(80,62,36)"/>
<ellipse cx="265.8" cy="95.4" rx="0.93" ry="1.18" fill="rgb(132, 91, 28)"/>
<ellipse cx="265.7" cy="97.7" rx="0.83" ry="1.18" fill="rgb(172, 135, 59)"/>
<ellipse cx="266.2" cy="99.0" rx="0.87" ry="1.18" fill="rgb(170, 121, 42)"/>
<ellipse cx="265.6" cy="101.0" rx="1.06" ry="1.18" fill="rgb(149, 102, 32)"/>
<ellipse cx="275.7" cy="94.3" rx="1.17" ry="1.26" fill="rgb(140, 96, 30)"/>
<ellipse cx="276.0" cy="96.1" rx="1.05" ry="1.26" fill="rgb(142, 98, 30)"/>
<ellipse cx="275.6" cy="98.4" rx="0.93" ry="1.26" fill="rgb(131, 97, 55)"/>
<ellipse cx="276.2" cy="100.2" rx="0.90" ry="1.26" fill="rgb(156, 100, 30)"/>
<ellipse cx="286.6" cy="93.1" rx="0.85" ry="1.36" fill="rgb(147, 115, 51)"/>
<ellipse cx="287.4" cy="95.0" rx="0.90" ry="1.36" fill="rgb(165, 113, 35)"/>
<ellipse cx="287.1" cy="97.7" rx="0.91" ry="1.36" fill="rgb(154, 110, 38)"/>
<ellipse cx="287.0" cy="99.5" rx="1.11" ry="1.36" fill="rgb(155, 111, 38)"/>
<ellipse cx="298.2" cy="94.3" rx="1.14" ry="1.32" fill="rgb(192, 132, 41)"/>
<ellipse cx="298.8" cy="96.3" rx="1.01" ry="1.32" fill="rgb(162, 121, 68)"/>
<ellipse cx="298.2" cy="98.8" rx="1.15" ry="1.32" fill="rgb(185, 133, 46)"/>
<ellipse cx="298.5" cy="100.4" rx="0.82" ry="1.32" fill="rgb(168, 107, 32)"/>
<circle cx="297.9" cy="112.3" r="0.78" fill="rgb(80,62,36)"/>
<ellipse cx="307.2" cy="92.9" rx="0.88" ry="1.38" fill="rgb(196, 146, 82)"/>
<ellipse cx="307.5" cy="95.5" rx="1.17" ry="1.38" fill="rgb(181, 134, 75)"/>
<ellipse cx="307.5" cy="97.1" rx="0.96" ry="1.38" fill="rgb(168, 125, 70)"/>
<ellipse cx="308.0" cy="99.5" rx="1.05" ry="1.38" fill="rgb(138, 82, 21)"/>
<ellipse cx="318.9" cy="96.1" rx="1.16" ry="1.12" fill="rgb(152, 104, 32)"/>
<ellipse cx="318.0" cy="97.8" rx="1.05" ry="1.12" fill="rgb(127, 75, 20)"/>
<ellipse cx="318.7" cy="99.4" rx="1.06" ry="1.12" fill="rgb(192, 150, 66)"/>
<ellipse cx="319.1" cy="101.1" rx="0.81" ry="1.12" fill="rgb(182, 108, 28)"/>
<circle cx="318.5" cy="110.5" r="0.95" fill="rgb(80,62,36)"/>
<ellipse cx="47.8" cy="119.8" rx="1.00" ry="1.28" fill="rgb(122, 87, 30)"/>
<ellipse cx="48.4" cy="121.6" rx="0.95" ry="1.28" fill="rgb(85, 59, 18)"/>
<ellipse cx="48.3" cy="123.5" rx="0.90" ry="1.28" fill="rgb(114, 79, 24)"/>
<ellipse cx="48.1" cy="126.0" rx="0.97" ry="1.28" fill="rgb(107, 63, 16)"/>
<ellipse cx="56.7" cy="122.0" rx="0.86" ry="1.21" fill="rgb(63, 45, 15)"/>
<ellipse cx="56.8" cy="123.4" rx="1.06" ry="1.21" fill="rgb(49, 29, 7)"/>
<ellipse cx="56.9" cy="125.4" rx="1.05" ry="1.21" fill="rgb(39, 29, 16)"/>
<ellipse cx="57.7" cy="127.4" rx="1.09" ry="1.21" fill="rgb(62, 48, 21)"/>
<ellipse cx="69.0" cy="122.0" rx="1.18" ry="1.28" fill="rgb(152, 113, 63)"/>
<ellipse cx="69.1" cy="123.9" rx="0.83" ry="1.28" fill="rgb(155, 116, 65)"/>
<ellipse cx="68.4" cy="125.9" rx="1.20" ry="1.28" fill="rgb(186, 146, 64)"/>
<ellipse cx="69.3" cy="128.3" rx="0.80" ry="1.28" fill="rgb(150, 107, 37)"/>
<ellipse cx="79.6" cy="121.1" rx="1.06" ry="1.11" fill="rgb(123, 73, 19)"/>
<ellipse cx="80.4" cy="123.3" rx="1.06" ry="1.11" fill="rgb(178, 113, 34)"/>
<ellipse cx="79.5" cy="124.5" rx="1.01" ry="1.11" fill="rgb(135, 93, 29)"/>
<ellipse cx="80.1" cy="127.0" rx="0.83" ry="1.11" fill="rgb(159, 118, 66)"/>
<ellipse cx="91.8" cy="120.8" rx="1.00" ry="1.11" fill="rgb(41, 30, 10)"/>
<ellipse cx="91.3" cy="123.0" rx="0.89" ry="1.11" fill="rgb(55, 38, 12)"/>
<ellipse cx="92.1" cy="124.5" rx="0.83" ry="1.11" fill="rgb(40, 27, 8)"/>
<ellipse cx="91.6" cy="126.3" rx="0.88" ry="1.11" fill="rgb(39, 29, 16)"/>
<ellipse cx="102.5" cy="122.1" rx="1.16" ry="1.16" fill="rgb(201, 157, 69)"/>
<ellipse cx="102.8" cy="123.4" rx="1.08" ry="1.16" fill="rgb(146, 93, 28)"/>
<ellipse cx="102.9" cy="125.7" rx="1.01" ry="1.16" fill="rgb(168, 132, 58)"/>
<ellipse cx="102.9" cy="126.9" rx="0.94" ry="1.16" fill="rgb(194, 134, 41)"/>
<ellipse cx="113.3" cy="122.6" rx="0.99" ry="1.12" fill="rgb(52, 31, 8)"/>
<ellipse cx="113.0" cy="124.4" rx="1.24" ry="1.12" fill="rgb(39, 27, 8)"/>
<ellipse cx="112.6" cy="126.1" rx="1.12" ry="1.12" fill="rgb(41, 28, 9)"/>
<ellipse cx="113.3" cy="128.0" rx="1.05" ry="1.12" fill="rgb(48, 29, 7)"/>
<ellipse cx="123.1" cy="121.2" rx="1.08" ry="1.14" fill="rgb(113, 67, 17)"/>
<ellipse cx="124.1" cy="122.8" rx="0.86" ry="1.14" fill="rgb(153, 97, 29)"/>
<ellipse cx="123.2" cy="124.7" rx="1.07" ry="1.14" fill="rgb(130, 93, 32)"/>
<ellipse cx="124.0" cy="126.6" rx="1.15" ry="1.14" fill="rgb(154, 115, 64)"/>
<ellipse cx="134.5" cy="122.5" rx="0.95" ry="1.13" fill="rgb(138, 108, 48)"/>
<ellipse cx="133.6" cy="124.3" rx="1.16" ry="1.13" fill="rgb(94, 70, 39)"/>
<ellipse cx="134.2" cy="126.0" rx="1.05" ry="1.13" fill="rgb(100, 59, 15)"/>
<ellipse cx="134.5" cy="127.3" rx="0.90" ry="1.13" fill="rgb(131, 97, 55)"/>
<circle cx="133.8" cy="137.0" r="0.69" fill="rgb(80,62,36)"/>
<ellipse cx="144.7" cy="121.5" rx="1.22" ry="1.38" fill="rgb(157, 112, 39)"/>
<ellipse cx="145.2" cy="124.1" rx="0.93" ry="1.38" fill="rgb(183, 131, 45)"/>
<ellipse cx="144.6" cy="125.9" rx="1.11" ry="1.38" fill="rgb(132, 95, 33)"/>
<ellipse cx="144.6" cy="128.2" rx="1.15" ry="1.38" fill="rgb(120, 82, 25)"/>
<ellipse cx="157.0" cy="119.8" rx="0.85" ry="1.20" fill="rgb(118, 88, 49)"/>
<ellipse cx="155.9" cy="122.3" rx="1.13" ry="1.20" fill="rgb(132, 78, 20)"/>
<ellipse cx="156.1" cy="123.4" rx="0.99" ry="1.20" fill="rgb(146, 109, 61)"/>
<ellipse cx="156.7" cy="125.7" rx="1.24" ry="1.20" fill="rgb(208, 163, 72)"/>
<circle cx="155.5" cy="138.4" r="0.88" fill="rgb(80,62,36)"/>
<ellipse cx="166.7" cy="121.3" rx="0.85" ry="1.09" fill="rgb(85, 50, 13)"/>
<ellipse cx="166.7" cy="123.7" rx="0.88" ry="1.09" fill="rgb(109, 75, 23)"/>
<ellipse cx="165.7" cy="125.2" rx="1.25" ry="1.09" fill="rgb(107, 79, 44)"/>
<ellipse cx="166.5" cy="126.7" rx="0.90" ry="1.09" fill="rgb(106, 67, 20)"/>
<ellipse cx="178.0" cy="121.9" rx="1.16" ry="1.14" fill="rgb(91, 62, 19)"/>
<ellipse cx="178.2" cy="124.4" rx="1.09" ry="1.14" fill="rgb(122, 72, 19)"/>
<ellipse cx="178.6" cy="125.8" rx="1.25" ry="1.14" fill="rgb(103, 77, 43)"/>
<ellipse cx="178.2" cy="127.7" rx="0.99" ry="1.14" fill="rgb(112, 88, 39)"/>
<ellipse cx="188.6" cy="120.3" rx="1.13" ry="1.38" fill="rgb(136, 81, 21)"/>
<ellipse cx="188.9" cy="123.2" rx="1.18" ry="1.38" fill="rgb(98, 73, 41)"/>
<ellipse cx="189.0" cy="125.1" rx="1.05" ry="1.38" fill="rgb(126, 80, 24)"/>
<ellipse cx="188.4" cy="127.2" rx="1.24" ry="1.38" fill="rgb(110, 81, 46)"/>
<circle cx="189.2" cy="138.7" r="0.80" fill="rgb(80,62,36)"/>
<ellipse cx="200.0" cy="122.6" rx="0.92" ry="1.30" fill="rgb(147, 115, 51)"/>
<ellipse cx="200.1" cy="124.8" rx="1.04" ry="1.30" fill="rgb(121, 77, 23)"/>
<ellipse cx="199.9" cy="126.4" rx="1.18" ry="1.30" fill="rgb(95, 56, 15)"/>
<ellipse cx="199.5" cy="128.9" rx="0.90" ry="1.30" fill="rgb(111, 77, 24)"/>
<circle cx="200.4" cy="137.4" r="0.81" fill="rgb(80,62,36)"/>
<ellipse cx="210.7" cy="122.0" rx="0.82" ry="1.32" fill="rgb(124, 92, 51)"/>
<ellipse cx="210.9" cy="124.0" rx="0.87" ry="1.32" fill="rgb(98, 76, 34)"/>
<ellipse cx="210.0" cy="125.9" rx="1.04" ry="1.32" fill="rgb(117, 69, 18)"/>
<ellipse cx="210.7" cy="128.0" rx="1.25" ry="1.32" fill="rgb(103, 61, 16)"/>
<ellipse cx="221.1" cy="121.7" rx="1.08" ry="1.10" fill="rgb(182, 125, 39)"/>
<ellipse cx="221.6" cy="123.3" rx="0.89" ry="1.10" fill="rgb(123, 73, 19)"/>
<ellipse cx="220.7" cy="125.0" rx="1.05" ry="1.10" fill="rgb(158, 113, 39)"/>
<ellipse cx="220.9" cy="127.0" rx="0.84" ry="1.10" fill="rgb(187, 111, 29)"/>
<ellipse cx="232.3" cy="120.3" rx="0.82" ry="1.26" fill="rgb(130, 102, 45)"/>
<ellipse cx="233.4" cy="122.5" rx="1.16" ry="1.26" fill="rgb(149, 117, 51)"/>
<ellipse cx="232.7" cy="124.1" rx="1.08" ry="1.26" fill="rgb(108, 74, 23)"/>
<ellipse cx="233.3" cy="126.6" rx="1.10" ry="1.26" fill="rgb(123, 85, 26)"/>
<circle cx="231.3" cy="138.3" r="0.75" fill="rgb(80,62,36)"/>
<ellipse cx="243.1" cy="121.8" rx="1.00" ry="1.06" fill="rgb(207, 162, 72)"/>
<ellipse cx="242.7" cy="123.7" rx="1.02" ry="1.06" fill="rgb(176, 112, 33)"/>
<ellipse cx="243.5" cy="125.0" rx="0.89" ry="1.06" fill="rgb(144, 107, 60)"/>
<ellipse cx="243.6" cy="126.7" rx="1.15" ry="1.06" fill="rgb(175, 104, 27)"/>
<ellipse cx="253.6" cy="120.5" rx="1.17" ry="1.09" fill="rgb(95, 65, 20)"/>
<ellipse cx="253.1" cy="122.3" rx="1.14" ry="1.09" fill="rgb(101, 64, 19)"/>
<ellipse cx="252.8" cy="124.5" rx="1.19" ry="1.09" fill="rgb(119, 93, 41)"/>
<ellipse cx="253.1" cy="125.6" rx="0.88" ry="1.09" fill="rgb(120, 83, 26)"/>
<ellipse cx="265.3" cy="120.2" rx="0.94" ry="1.15" fill="rgb(92, 69, 38)"/>
<ellipse cx="265.2" cy="122.3" rx="0.89" ry="1.15" fill="rgb(112, 77, 24)"/>
<ellipse cx="264.9" cy="123.5" rx="1.10" ry="1.15" fill="rgb(148, 88, 23)"/>
<ellipse cx="264.4" cy="125.8" rx="1.21" ry="1.15" fill="rgb(104, 62, 16)"/>
<ellipse cx="274.6" cy="120.6" rx="1.12" ry="1.24" fill="rgb(135, 106, 46)"/>
<ellipse cx="275.0" cy="122.9" rx="1.13" ry="1.24" fill="rgb(143, 112, 49)"/>
<ellipse cx="274.5" cy="124.3" rx="1.09" ry="1.24" fill="rgb(142, 102, 35)"/>
<ellipse cx="275.3" cy="126.1" rx="1.02" ry="1.24" fill="rgb(166, 106, 31)"/>
<circle cx="276.1" cy="138.2" r="0.67" fill="rgb(80,62,36)"/>
<ellipse cx="286.4" cy="121.7" rx="0.85" ry="1.23" fill="rgb(130, 96, 54)"/>
<ellipse cx="286.4" cy="123.6" rx="1.10" ry="1.23" fill="rgb(159, 101, 30)"/>
<ellipse cx="286.6" cy="125.6" rx="1.19" ry="1.23" fill="rgb(146, 108, 61)"/>
<ellipse cx="285.6" cy="128.0" rx="0.93" ry="1.23" fill="rgb(197, 141, 49)"/>
<circle cx="286.7" cy="136.6" r="0.82" fill="rgb(80,62,36)"/>
<ellipse cx="297.4" cy="123.1" rx="0.95" ry="1.11" fill="rgb(158, 124, 55)"/>
<ellipse cx="296.6" cy="124.3" rx="0.84" ry="1.11" fill="rgb(115, 86, 48)"/>
<ellipse cx="297.1" cy="126.2" rx="0.98" ry="1.11" fill="rgb(118, 92, 41)"/>
<ellipse cx="296.6" cy="127.6" rx="1.25" ry="1.11" fill="rgb(136, 101, 57)"/>
<ellipse cx="307.9" cy="121.1" rx="0.94" ry="1.22" fill="rgb(117, 91, 40)"/>
<ellipse cx="308.7" cy="122.7" rx="0.92" ry="1.22" fill="rgb(106, 76, 26)"/>
<ellipse cx="308.8" cy="124.8" rx="0.93" ry="1.22" fill="rgb(133, 95, 33)"/>
<ellipse cx="307.9" cy="126.4" rx="1.22" ry="1.22" fill="rgb(116, 74, 22)"/>
<ellipse cx="318.7" cy="120.4" rx="1.13" ry="1.30" fill="rgb(148, 88, 23)"/>
<ellipse cx="318.7" cy="122.6" rx="1.07" ry="1.30" fill="rgb(155, 99, 29)"/>
<ellipse cx="317.8" cy="124.6" rx="0.99" ry="1.30" fill="rgb(139, 96, 30)"/>
<ellipse cx="318.3" cy="126.8" rx="1.13" ry="1.30" fill="rgb(102, 60, 16)"/>
<ellipse cx="46.8" cy="148.8" rx="1.20" ry="1.27" fill="rgb(34, 20, 5)"/>
<ellipse cx="47.0" cy="150.2" rx="0.95" ry="1.27" fill="rgb(45, 31, 9)"/>
<ellipse cx="47.1" cy="152.2" rx="0.97" ry="1.27" fill="rgb(45, 28, 8)"/>
<ellipse cx="46.9" cy="154.1" rx="1.21" ry="1.27" fill="rgb(57, 40, 14)"/>
<ellipse cx="58.5" cy="147.9" rx="0.90" ry="1.07" fill="rgb(112, 80, 28)"/>
<ellipse cx="57.8" cy="149.5" rx="0.99" ry="1.07" fill="rgb(118, 70, 18)"/>
<ellipse cx="57.8" cy="151.1" rx="0.84" ry="1.07" fill="rgb(118, 81, 25)"/>
<ellipse cx="57.9" cy="152.7" rx="1.03" ry="1.07" fill="rgb(112, 77, 24)"/>
<ellipse cx="69.2" cy="147.3" rx="1.16" ry="1.13" fill="rgb(109, 64, 17)"/>
<ellipse cx="70.1" cy="148.8" rx="1.22" ry="1.13" fill="rgb(113, 72, 21)"/>
<ellipse cx="69.1" cy="150.8" rx="1.03" ry="1.13" fill="rgb(105, 75, 26)"/>
<ellipse cx="70.0" cy="152.0" rx="1.22" ry="1.13" fill="rgb(109, 78, 27)"/>
<ellipse cx="80.1" cy="147.2" rx="1.09" ry="1.07" fill="rgb(102, 65, 19)"/>
<ellipse cx="80.5" cy="148.6" rx="0.84" ry="1.07" fill="rgb(98, 58, 15)"/>
<ellipse cx="80.1" cy="150.6" rx="1.02" ry="1.07" fill="rgb(107, 76, 26)"/>
<ellipse cx="80.3" cy="152.3" rx="1.22" ry="1.07" fill="rgb(100, 59, 15)"/>
<ellipse cx="91.6" cy="149.4" rx="1.23" ry="1.20" fill="rgb(152, 105, 32)"/>
<ellipse cx="91.8" cy="151.1" rx="1.15" ry="1.20" fill="rgb(135, 86, 25)"/>
<ellipse cx="91.5" cy="153.1" rx="1.06" ry="1.20" fill="rgb(153, 109, 38)"/>
<ellipse cx="91.7" cy="154.8" rx="1.11" ry="1.20" fill="rgb(202, 139, 43)"/>
<ellipse cx="101.4" cy="148.9" rx="1.10" ry="1.36" fill="rgb(148, 94, 28)"/>
<ellipse cx="101.7" cy="151.0" rx="0.80" ry="1.36" fill="rgb(203, 159, 70)"/>
<ellipse cx="100.9" cy="152.8" rx="1.01" ry="1.36" fill="rgb(202, 128, 38)"/>
<ellipse cx="101.2" cy="154.9" rx="0.90" ry="1.36" fill="rgb(160, 114, 40)"/>
<ellipse cx="113.1" cy="148.8" rx="0.91" ry="1.14" fill="rgb(112, 83, 47)"/>
<ellipse cx="113.3" cy="150.2" rx="0.88" ry="1.14" fill="rgb(145, 113, 50)"/>
<ellipse cx="113.7" cy="152.0" rx="0.96" ry="1.14" fill="rgb(95, 56, 15)"/>
<ellipse cx="113.6" cy="154.2" rx="0.94" ry="1.14" fill="rgb(113, 89, 39)"/>
<ellipse cx="124.4" cy="148.1" rx="1.00" ry="1.18" fill="rgb(215, 137, 41)"/>
<ellipse cx="123.7" cy="150.6" rx="1.24" ry="1.18" fill="rgb(181, 107, 28)"/>
<ellipse cx="124.3" cy="152.4" rx="1.22" ry="1.18" fill="rgb(152, 113, 63)"/>
<ellipse cx="124.2" cy="154.3" rx="0.95" ry="1.18" fill="rgb(178, 113, 34)"/>
<circle cx="123.0" cy="163.3" r="0.88" fill="rgb(80,62,36)"/>
<ellipse cx="134.9" cy="149.3" rx="1.18" ry="1.27" fill="rgb(60, 38, 11)"/>
<ellipse cx="134.7" cy="151.4" rx="1.03" ry="1.27" fill="rgb(73, 57, 25)"/>
<ellipse cx="134.8" cy="153.0" rx="0.95" ry="1.27" fill="rgb(62, 48, 21)"/>
<ellipse cx="135.2" cy="154.9" rx="1.06" ry="1.27" fill="rgb(60, 35, 9)"/>
<ellipse cx="144.1" cy="148.2" rx="1.05" ry="1.15" fill="rgb(126, 86, 27)"/>
<ellipse cx="143.9" cy="149.7" rx="1.02" ry="1.15" fill="rgb(162, 120, 67)"/>
<ellipse cx="144.2" cy="151.9" rx="1.18" ry="1.15" fill="rgb(143, 85, 22)"/>
<ellipse cx="143.8" cy="153.3" rx="0.86" ry="1.15" fill="rgb(151, 104, 32)"/>
<ellipse cx="156.5" cy="146.9" rx="0.96" ry="1.16" fill="rgb(195, 153, 67)"/>
<ellipse cx="156.5" cy="149.2" rx="0.94" ry="1.16" fill="rgb(146, 115, 50)"/>
<ellipse cx="156.3" cy="150.8" rx="0.94" ry="1.16" fill="rgb(145, 86, 22)"/>
<ellipse cx="156.7" cy="152.8" rx="1.21" ry="1.16" fill="rgb(141, 90, 27)"/>
<ellipse cx="167.5" cy="149.0" rx="0.99" ry="1.11" fill="rgb(195, 134, 42)"/>
<ellipse cx="167.4" cy="150.2" rx="1.04" ry="1.11" fill="rgb(186, 138, 77)"/>
<ellipse cx="167.7" cy="152.0" rx="0.81" ry="1.11" fill="rgb(155, 92, 24)"/>
<ellipse cx="167.8" cy="153.9" rx="1.22" ry="1.11" fill="rgb(148, 88, 23)"/>
<circle cx="166.4" cy="162.3" r="0.82" fill="rgb(80,62,36)"/>
<ellipse cx="178.4" cy="148.8" rx="1.11" ry="1.09" fill="rgb(129, 96, 54)"/>
<ellipse cx="178.1" cy="150.9" rx="0.98" ry="1.09" fill="rgb(141, 105, 59)"/>
<ellipse cx="178.1" cy="152.3" rx="0.86" ry="1.09" fill="rgb(149, 107, 37)"/>
<ellipse cx="178.2" cy="154.2" rx="0.95" ry="1.09" fill="rgb(102, 61, 16)"/>
<circle cx="177.6" cy="164.1" r="0.94" fill="rgb(80,62,36)"/>
<ellipse cx="189.3" cy="148.8" rx="1.10" ry="1.15" fill="rgb(111, 80, 27)"/>
<ellipse cx="189.0" cy="150.5" rx="1.13" ry="1.15" fill="rgb(148, 88, 23)"/>
<ellipse cx="189.2" cy="152.3" rx="1.12" ry="1.15" fill="rgb(102, 60, 16)"/>
<ellipse cx="189.1" cy="154.0" rx="1.15" ry="1.15" fill="rgb(137, 81, 21)"/>
<ellipse cx="200.0" cy="148.6" rx="1.11" ry="1.17" fill="rgb(169, 108, 32)"/>
<ellipse cx="200.0" cy="150.0" rx="1.01" ry="1.17" fill="rgb(148, 88, 23)"/>
<ellipse cx="199.5" cy="152.4" rx="1.00" ry="1.17" fill="rgb(140, 97, 30)"/>
<ellipse cx="199.9" cy="154.0" rx="1.01" ry="1.17" fill="rgb(185, 118, 35)"/>
<ellipse cx="210.5" cy="149.7" rx="1.16" ry="1.13" fill="rgb(206, 122, 32)"/>
<ellipse cx="209.5" cy="151.4" rx="1.03" ry="1.13" fill="rgb(147, 105, 36)"/>
<ellipse cx="209.5" cy="153.1" rx="0.84" ry="1.13" fill="rgb(152, 113, 63)"/>
<ellipse cx="209.9" cy="154.6" rx="1.10" ry="1.13" fill="rgb(177, 122, 38)"/>
<ellipse cx="220.6" cy="148.1" rx="1.11" ry="1.14" fill="rgb(147, 115, 51)"/>
<ellipse cx="220.5" cy="149.9" rx="0.85" ry="1.14" fill="rgb(144, 85, 22)"/>
<ellipse cx="220.8" cy="151.2" rx="1.03" ry="1.14" fill="rgb(161, 102, 30)"/>
<ellipse cx="220.2" cy="153.1" rx="1.15" ry="1.14" fill="rgb(147, 109, 61)"/>
<circle cx="221.8" cy="165.4" r="0.72" fill="rgb(80,62,36)"/>
<ellipse cx="232.6" cy="147.0" rx="1.08" ry="1.06" fill="rgb(167, 124, 70)"/>
<ellipse cx="232.5" cy="148.5" rx="0.94" ry="1.06" fill="rgb(174, 124, 43)"/>
<ellipse cx="232.2" cy="150.2" rx="0.96" ry="1.06" fill="rgb(127, 94, 53)"/>
<ellipse cx="233.1" cy="152.3" rx="0.95" ry="1.06" fill="rgb(195, 152, 67)"/>
<ellipse cx="243.3" cy="149.3" rx="1.04" ry="1.17" fill="rgb(167, 119, 41)"/>
<ellipse cx="242.7" cy="151.0" rx="0.81" ry="1.17" fill="rgb(116, 69, 18)"/>
<ellipse cx="243.1" cy="153.3" rx="1.13" ry="1.17" fill="rgb(133, 92, 28)"/>
<ellipse cx="243.2" cy="154.7" rx="0.81" ry="1.17" fill="rgb(119, 93, 41)"/>
<circle cx="243.2" cy="163.6" r="0.60" fill="rgb(80,62,36)"/>
<ellipse cx="254.0" cy="148.7" rx="1.05" ry="1.35" fill="rgb(53, 32, 8)"/>
<ellipse cx="254.9" cy="150.7" rx="0.89" ry="1.35" fill="rgb(48, 34, 12)"/>
<ellipse cx="255.0" cy="152.7" rx="0.86" ry="1.35" fill="rgb(64, 41, 12)"/>
<ellipse cx="254.5" cy="154.7" rx="1.11" ry="1.35" fill="rgb(73, 50, 15)"/>
<ellipse cx="265.7" cy="148.7" rx="1.01" ry="1.11" fill="rgb(184, 132, 46)"/>
<ellipse cx="265.4" cy="150.6" rx="1.07" ry="1.11" fill="rgb(195, 124, 37)"/>
<ellipse cx="265.0" cy="151.7" rx="1.05" ry="1.11" fill="rgb(126, 90, 31)"/>
<ellipse cx="265.0" cy="153.9" rx="0.82" ry="1.11" fill="rgb(166, 124, 69)"/>
<circle cx="265.8" cy="165.3" r="0.62" fill="rgb(80,62,36)"/>
<ellipse cx="275.0" cy="147.6" rx="0.87" ry="1.27" fill="rgb(170, 133, 58)"/>
<ellipse cx="275.2" cy="148.8" rx="1.20" ry="1.27" fill="rgb(207, 132, 39)"/>
<ellipse cx="274.5" cy="150.8" rx="1.03" ry="1.27" fill="rgb(152, 104, 32)"/>
<ellipse cx="275.2" cy="152.8" rx="0.80" ry="1.27" fill="rgb(231, 181, 80)"/>
<ellipse cx="286.2" cy="149.3" rx="1.08" ry="1.25" fill="rgb(152, 97, 29)"/>
<ellipse cx="286.9" cy="150.9" rx="0.81" ry="1.25" fill="rgb(156, 107, 33)"/>
<ellipse cx="287.0" cy="153.1" rx="1.12" ry="1.25" fill="rgb(126, 99, 43)"/>
<ellipse cx="286.9" cy="155.0" rx="0.84" ry="1.25" fill="rgb(149, 95, 28)"/>
<ellipse cx="297.5" cy="146.2" rx="0.87" ry="1.38" fill="rgb(122, 72, 19)"/>
<ellipse cx="298.3" cy="148.7" rx="0.83" ry="1.38" fill="rgb(89, 64, 22)"/>
<ellipse cx="298.0" cy="150.5" rx="0.97" ry="1.38" fill="rgb(97, 67, 21)"/>
<ellipse cx="298.3" cy="153.3" rx="1.21" ry="1.38" fill="rgb(121, 84, 26)"/>
<ellipse cx="309.3" cy="149.9" rx="0.82" ry="1.07" fill="rgb(209, 163, 72)"/>
<ellipse cx="308.6" cy="151.5" rx="0.91" ry="1.07" fill="rgb(181, 108, 28)"/>
<ellipse cx="308.7" cy="152.8" rx="0.87" ry="1.07" fill="rgb(155, 92, 24)"/>
<ellipse cx="309.4" cy="154.4" rx="1.14" ry="1.07" fill="rgb(193, 144, 81)"/>
<ellipse cx="319.8" cy="148.6" rx="0.95" ry="1.19" fill="rgb(135, 80, 21)"/>
<ellipse cx="320.4" cy="151.0" rx="1.04" ry="1.19" fill="rgb(128, 76, 20)"/>
<ellipse cx="320.5" cy="152.3" rx="0.95" ry="1.19" fill="rgb(108, 64, 17)"/>
<ellipse cx="319.6" cy="154.1" rx="1.04" ry="1.19" fill="rgb(103, 81, 35)"/>
<ellipse cx="46.9" cy="176.5" rx="1.14" ry="1.28" fill="rgb(116, 83, 29)"/>
<ellipse cx="47.6" cy="178.4" rx="1.25" ry="1.28" fill="rgb(152, 119, 52)"/>
<ellipse cx="47.3" cy="179.8" rx="1.23" ry="1.28" fill="rgb(101, 75, 42)"/>
<ellipse cx="47.2" cy="181.8" rx="0.81" ry="1.28" fill="rgb(110, 65, 17)"/>
<ellipse cx="57.8" cy="174.2" rx="0.84" ry="1.25" fill="rgb(162, 121, 68)"/>
<ellipse cx="57.7" cy="176.2" rx="0.86" ry="1.25" fill="rgb(175, 111, 33)"/>
<ellipse cx="57.6" cy="177.6" rx="0.92" ry="1.25" fill="rgb(202, 139, 43)"/>
<ellipse cx="57.3" cy="180.1" rx="0.98" ry="1.25" fill="rgb(165, 105, 31)"/>
<ellipse cx="68.1" cy="176.3" rx="0.90" ry="1.21" fill="rgb(216, 169, 75)"/>
<ellipse cx="68.8" cy="178.5" rx="1.08" ry="1.21" fill="rgb(150, 112, 63)"/>
<ellipse cx="68.0" cy="180.4" rx="1.10" ry="1.21" fill="rgb(149, 95, 28)"/>
<ellipse cx="68.7" cy="182.0" rx="1.02" ry="1.21" fill="rgb(142, 102, 35)"/>
<ellipse cx="78.9" cy="174.3" rx="0.96" ry="1.08" fill="rgb(124, 88, 31)"/>
<ellipse cx="78.7" cy="176.2" rx="0.91" ry="1.08" fill="rgb(107, 64, 17)"/>
<ellipse cx="79.2" cy="177.7" rx="1.21" ry="1.08" fill="rgb(118, 75, 22)"/>
<ellipse cx="79.4" cy="179.2" rx="0.89" ry="1.08" fill="rgb(86, 55, 16)"/>
<circle cx="79.7" cy="190.3" r="0.86" fill="rgb(80,62,36)"/>
<ellipse cx="90.2" cy="175.6" rx="0.85" ry="1.33" fill="rgb(99, 78, 34)"/>
<ellipse cx="90.7" cy="177.9" rx="1.02" ry="1.33" fill="rgb(81, 64, 28)"/>
<ellipse cx="90.4" cy="179.6" rx="0.89" ry="1.33" fill="rgb(78, 61, 27)"/>
<ellipse cx="90.7" cy="181.7" rx="1.05" ry="1.33" fill="rgb(119, 85, 29)"/>
<circle cx="90.2" cy="191.8" r="0.83" fill="rgb(80,62,36)"/>
<ellipse cx="102.0" cy="176.0" rx="0.94" ry="1.36" fill="rgb(181, 130, 45)"/>
<ellipse cx="102.3" cy="177.7" rx="1.01" ry="1.36" fill="rgb(222, 174, 77)"/>
<ellipse cx="101.8" cy="180.3" rx="0.84" ry="1.36" fill="rgb(196, 153, 68)"/>
<ellipse cx="102.7" cy="182.1" rx="1.24" ry="1.36" fill="rgb(144, 92, 27)"/>
<ellipse cx="112.3" cy="173.8" rx="1.15" ry="1.06" fill="rgb(165, 114, 35)"/>
<ellipse cx="111.5" cy="175.6" rx="1.16" ry="1.06" fill="rgb(122, 72, 19)"/>
<ellipse cx="112.3" cy="177.4" rx="1.09" ry="1.06" fill="rgb(159, 94, 25)"/>
<ellipse cx="111.4" cy="178.9" rx="0.84" ry="1.06" fill="rgb(195, 152, 67)"/>
<circle cx="111.6" cy="190.6" r="0.66" fill="rgb(80,62,36)"/>
<ellipse cx="122.3" cy="175.9" rx="1.01" ry="1.19" fill="rgb(135, 106, 47)"/>
<ellipse cx="123.4" cy="177.6" rx="0.90" ry="1.19" fill="rgb(169, 132, 58)"/>
<ellipse cx="122.5" cy="179.7" rx="1.25" ry="1.19" fill="rgb(133, 104, 46)"/>
<ellipse cx="122.5" cy="181.2" rx="0.88" ry="1.19" fill="rgb(109, 64, 17)"/>
<ellipse cx="135.1" cy="174.6" rx="1.05" ry="1.33" fill="rgb(162, 112, 35)"/>
<ellipse cx="134.2" cy="177.1" rx="0.92" ry="1.33" fill="rgb(177, 126, 44)"/>
<ellipse cx="135.2" cy="178.9" rx="0.94" ry="1.33" fill="rgb(136, 94, 29)"/>
<ellipse cx="134.3" cy="181.2" rx="1.06" ry="1.33" fill="rgb(147, 115, 51)"/>
<ellipse cx="145.6" cy="175.5" rx="1.00" ry="1.37" fill="rgb(131, 103, 45)"/>
<ellipse cx="145.6" cy="178.1" rx="1.14" ry="1.37" fill="rgb(117, 69, 18)"/>
<ellipse cx="144.6" cy="179.7" rx="1.18" ry="1.37" fill="rgb(159, 101, 30)"/>
<ellipse cx="145.2" cy="182.3" rx="1.00" ry="1.37" fill="rgb(161, 111, 34)"/>
<ellipse cx="156.2" cy="175.4" rx="0.88" ry="1.24" fill="rgb(125, 74, 19)"/>
<ellipse cx="155.8" cy="177.5" rx="1.23" ry="1.24" fill="rgb(125, 89, 31)"/>
<ellipse cx="156.5" cy="179.0" rx="1.08" ry="1.24" fill="rgb(131, 97, 54)"/>
<ellipse cx="156.3" cy="181.1" rx="0.95" ry="1.24" fill="rgb(124, 79, 23)"/>
<ellipse cx="167.3" cy="176.1" rx="0.98" ry="1.37" fill="rgb(143, 102, 35)"/>
<ellipse cx="168.1" cy="177.5" rx="0.96" ry="1.37" fill="rgb(145, 86, 22)"/>
<ellipse cx="168.1" cy="180.1" rx="1.09" ry="1.37" fill="rgb(174, 125, 43)"/>
<ellipse cx="167.3" cy="182.4" rx="0.98" ry="1.37" fill="rgb(111, 77, 24)"/>
<ellipse cx="177.0" cy="175.4" rx="1.11" ry="1.17" fill="rgb(218, 156, 54)"/>
<ellipse cx="177.4" cy="177.2" rx="1.23" ry="1.17" fill="rgb(181, 141, 62)"/>
<ellipse cx="177.5" cy="179.1" rx="0.91" ry="1.17" fill="rgb(145, 108, 60)"/>
<ellipse cx="177.4" cy="180.7" rx="0.94" ry="1.17" fill="rgb(197, 117, 31)"/>
<circle cx="178.5" cy="191.2" r="0.94" fill="rgb(80,62,36)"/>
<ellipse cx="189.1" cy="175.3" rx="1.18" ry="1.23" fill="rgb(57, 36, 10)"/>
<ellipse cx="189.1" cy="176.7" rx="0.92" ry="1.23" fill="rgb(44, 31, 11)"/>
<ellipse cx="189.9" cy="179.1" rx="0.84" ry="1.23" fill="rgb(38, 24, 7)"/>
<ellipse cx="189.0" cy="180.5" rx="1.04" ry="1.23" fill="rgb(47, 37, 16)"/>
<circle cx="188.5" cy="190.7" r="0.70" fill="rgb(80,62,36)"/>
<ellipse cx="198.5" cy="173.7" rx="1.03" ry="1.26" fill="rgb(90, 67, 37)"/>
<ellipse cx="198.9" cy="175.2" rx="1.14" ry="1.26" fill="rgb(121, 84, 26)"/>
<ellipse cx="198.7" cy="177.7" rx="0.90" ry="1.26" fill="rgb(112, 66, 17)"/>
<ellipse cx="199.1" cy="179.6" rx="0.87" ry="1.26" fill="rgb(84, 54, 16)"/>
<ellipse cx="210.3" cy="174.5" rx="1.06" ry="1.32" fill="rgb(146, 93, 28)"/>
<ellipse cx="210.5" cy="176.3" rx="1.03" ry="1.32" fill="rgb(197, 141, 49)"/>
<ellipse cx="210.2" cy="178.7" rx="1.13" ry="1.32" fill="rgb(133, 85, 25)"/>
<ellipse cx="210.1" cy="180.5" rx="1.00" ry="1.32" fill="rgb(174, 130, 73)"/>
<circle cx="209.8" cy="192.8" r="1.00" fill="rgb(80,62,36)"/>
<ellipse cx="222.3" cy="174.1" rx="0.94" ry="1.17" fill="rgb(101, 75, 42)"/>
<ellipse cx="222.3" cy="175.6" rx="0.94" ry="1.17" fill="rgb(110, 70, 21)"/>
<ellipse cx="221.8" cy="177.3" rx="1.22" ry="1.17" fill="rgb(82, 59, 20)"/>
<ellipse cx="222.0" cy="179.6" rx="1.15" ry="1.17" fill="rgb(90, 65, 22)"/>
<ellipse cx="233.0" cy="175.9" rx="0.91" ry="1.08" fill="rgb(143, 112, 49)"/>
<ellipse cx="232.5" cy="177.6" rx="1.22" ry="1.08" fill="rgb(153, 91, 24)"/>
<ellipse cx="233.1" cy="179.0" rx="1.22" ry="1.08" fill="rgb(133, 92, 28)"/>
<ellipse cx="233.0" cy="181.1" rx="0.84" ry="1.08" fill="rgb(157, 100, 30)"/>
<ellipse cx="241.8" cy="176.5" rx="1.14" ry="1.08" fill="rgb(134, 99, 56)"/>
<ellipse cx="242.3" cy="178.2" rx="1.11" ry="1.08" fill="rgb(153, 98, 29)"/>
<ellipse cx="242.7" cy="179.8" rx="1.15" ry="1.08" fill="rgb(166, 106, 31)"/>
<ellipse cx="241.9" cy="181.0" rx="1.17" ry="1.08" fill="rgb(169, 107, 32)"/>
<ellipse cx="254.2" cy="173.9" rx="0.85" ry="1.29" fill="rgb(166, 130, 57)"/>
<ellipse cx="254.1" cy="175.8" rx="1.01" ry="1.29" fill="rgb(142, 105, 59)"/>
<ellipse cx="253.9" cy="178.3" rx="0.98" ry="1.29" fill="rgb(138, 82, 21)"/>
<ellipse cx="254.1" cy="179.7" rx="1.23" ry="1.29" fill="rgb(101, 75, 42)"/>
<circle cx="254.6" cy="190.2" r="0.70" fill="rgb(80,62,36)"/>
<ellipse cx="264.0" cy="174.4" rx="1.11" ry="1.33" fill="rgb(203, 151, 85)"/>
<ellipse cx="263.8" cy="176.7" rx="1.06" ry="1.33" fill="rgb(223, 142, 42)"/>
<ellipse cx="264.7" cy="178.3" rx="0.82" ry="1.33" fill="rgb(145, 100, 31)"/>
<ellipse cx="264.1" cy="181.1" rx="0.92" ry="1.33" fill="rgb(207, 123, 32)"/>
<ellipse cx="275.4" cy="175.0" rx="1.06" ry="1.13" fill="rgb(133, 99, 55)"/>
<ellipse cx="275.9" cy="176.7" rx="1.25" ry="1.13" fill="rgb(135, 100, 56)"/>
<ellipse cx="275.8" cy="178.3" rx="1.10" ry="1.13" fill="rgb(107, 63, 16)"/>
<ellipse cx="275.9" cy="179.8" rx="1.12" ry="1.13" fill="rgb(115, 82, 28)"/>
<ellipse cx="286.3" cy="176.2" rx="1.21" ry="1.31" fill="rgb(101, 75, 42)"/>
<ellipse cx="286.2" cy="178.1" rx="1.01" ry="1.31" fill="rgb(137, 107, 47)"/>
<ellipse cx="286.1" cy="179.9" rx="0.96" ry="1.31" fill="rgb(123, 88, 30)"/>
<ellipse cx="285.3" cy="181.6" rx="0.81" ry="1.31" fill="rgb(129, 82, 24)"/>
<ellipse cx="297.6" cy="174.6" rx="1.08" ry="1.26" fill="rgb(91, 71, 31)"/>
<ellipse cx="297.6" cy="177.1" rx="0.94" ry="1.26" fill="rgb(101, 60, 16)"/>
<ellipse cx="297.7" cy="179.0" rx="1.25" ry="1.26" fill="rgb(101, 64, 19)"/>
<ellipse cx="297.1" cy="180.9" rx="1.20" ry="1.26" fill="rgb(96, 75, 33)"/>
<ellipse cx="308.3" cy="174.0" rx="1.06" ry="1.28" fill="rgb(125, 79, 23)"/>
<ellipse cx="307.4" cy="175.9" rx="0.93" ry="1.28" fill="rgb(107, 68, 20)"/>
<ellipse cx="308.1" cy="178.3" rx="1.14" ry="1.28" fill="rgb(110, 70, 21)"/>
<ellipse cx="307.5" cy="180.5" rx="0.97" ry="1.28" fill="rgb(112, 84, 47)"/>
<ellipse cx="320.0" cy="173.6" rx="1.19" ry="1.29" fill="rgb(91, 63, 19)"/>
<ellipse cx="319.8" cy="175.9" rx="0.87" ry="1.29" fill="rgb(143, 98, 30)"/>
<ellipse cx="320.2" cy="177.4" rx="0.96" ry="1.29" fill="rgb(143, 91, 27)"/>
<ellipse cx="319.6" cy="180.2" rx="1.18" ry="1.29" fill="rgb(145, 92, 27)"/>
<ellipse cx="47.6" cy="200.8" rx="1.07" ry="1.13" fill="rgb(132, 84, 25)"/>
<ellipse cx="47.4" cy="202.6" rx="1.08" ry="1.13" fill="rgb(123, 96, 42)"/>
<ellipse cx="48.0" cy="204.1" rx="0.87" ry="1.13" fill="rgb(155, 92, 24)"/>
<ellipse cx="47.7" cy="206.5" rx="0.88" ry="1.13" fill="rgb(141, 101, 35)"/>
<ellipse cx="59.2" cy="200.8" rx="0.99" ry="1.30" fill="rgb(164, 97, 25)"/>
<ellipse cx="58.9" cy="202.6" rx="0.84" ry="1.30" fill="rgb(145, 92, 27)"/>
<ellipse cx="59.3" cy="204.3" rx="0.94" ry="1.30" fill="rgb(131, 97, 55)"/>
<ellipse cx="58.6" cy="206.3" rx="1.14" ry="1.30" fill="rgb(136, 93, 29)"/>
<circle cx="57.6" cy="216.2" r="0.76" fill="rgb(80,62,36)"/>
<ellipse cx="69.0" cy="201.2" rx="0.99" ry="1.08" fill="rgb(95, 65, 20)"/>
<ellipse cx="69.6" cy="203.3" rx="1.23" ry="1.08" fill="rgb(105, 72, 22)"/>
<ellipse cx="68.9" cy="204.7" rx="1.03" ry="1.08" fill="rgb(106, 73, 22)"/>
<ellipse cx="69.1" cy="206.2" rx="0.98" ry="1.08" fill="rgb(137, 107, 47)"/>
<ellipse cx="79.9" cy="201.8" rx="1.15" ry="1.11" fill="rgb(124, 79, 23)"/>
<ellipse cx="79.8" cy="203.2" rx="0.98" ry="1.11" fill="rgb(176, 131, 73)"/>
<ellipse cx="79.6" cy="204.8" rx="1.14" ry="1.11" fill="rgb(170, 117, 36)"/>
<ellipse cx="80.0" cy="206.2" rx="1.18" ry="1.11" fill="rgb(137, 102, 57)"/>
<ellipse cx="90.6" cy="202.1" rx="1.21" ry="1.23" fill="rgb(103, 65, 19)"/>
<ellipse cx="91.1" cy="204.5" rx="0.92" ry="1.23" fill="rgb(126, 99, 44)"/>
<ellipse cx="90.4" cy="206.0" rx="1.22" ry="1.23" fill="rgb(125, 86, 27)"/>
<ellipse cx="90.9" cy="208.0" rx="1.07" ry="1.23" fill="rgb(104, 61, 16)"/>
<ellipse cx="101.7" cy="200.1" rx="1.02" ry="1.32" fill="rgb(145, 86, 22)"/>
<ellipse cx="102.2" cy="202.4" rx="0.83" ry="1.32" fill="rgb(145, 93, 27)"/>
<ellipse cx="101.9" cy="204.3" rx="1.00" ry="1.32" fill="rgb(151, 108, 37)"/>
<ellipse cx="102.9" cy="205.8" rx="1.05" ry="1.32" fill="rgb(208, 133, 39)"/>
<ellipse cx="111.7" cy="203.1" rx="1.12" ry="1.30" fill="rgb(143, 91, 27)"/>
<ellipse cx="111.4" cy="204.5" rx="0.83" ry="1.30" fill="rgb(98, 58, 15)"/>
<ellipse cx="111.2" cy="206.5" rx="0.88" ry="1.30" fill="rgb(134, 100, 56)"/>
<ellipse cx="111.3" cy="208.7" rx="1.10" ry="1.30" fill="rgb(144, 103, 36)"/>
<ellipse cx="123.8" cy="203.1" rx="0.88" ry="1.14" fill="rgb(135, 100, 56)"/>
<ellipse cx="122.8" cy="204.8" rx="1.09" ry="1.14" fill="rgb(135, 80, 21)"/>
<ellipse cx="123.3" cy="206.8" rx="1.05" ry="1.14" fill="rgb(153, 97, 29)"/>
<ellipse cx="122.6" cy="208.9" rx="1.07" ry="1.14" fill="rgb(166, 130, 57)"/>
<circle cx="123.2" cy="219.4" r="0.94" fill="rgb(80,62,36)"/>
<ellipse cx="134.5" cy="202.1" rx="0.80" ry="1.18" fill="rgb(97, 72, 40)"/>
<ellipse cx="135.0" cy="204.0" rx="0.97" ry="1.18" fill="rgb(81, 60, 34)"/>
<ellipse cx="134.9" cy="205.7" rx="1.22" ry="1.18" fill="rgb(134, 105, 46)"/>
<ellipse cx="134.8" cy="207.5" rx="1.25" ry="1.18" fill="rgb(93, 73, 32)"/>
<circle cx="134.6" cy="218.0" r="0.60" fill="rgb(80,62,36)"/>
<ellipse cx="145.4" cy="200.8" rx="0.92" ry="1.32" fill="rgb(152, 105, 32)"/>
<ellipse cx="144.8" cy="203.3" rx="1.14" ry="1.32" fill="rgb(128, 82, 24)"/>
<ellipse cx="145.8" cy="205.0" rx="1.12" ry="1.32" fill="rgb(154, 106, 33)"/>
<ellipse cx="145.4" cy="206.6" rx="0.92" ry="1.32" fill="rgb(128, 91, 32)"/>
<circle cx="145.9" cy="217.4" r="0.89" fill="rgb(80,62,36)"/>
<ellipse cx="155.3" cy="202.6" rx="1.15" ry="1.22" fill="rgb(126, 93, 52)"/>
<ellipse cx="155.6" cy="204.0" rx="0.99" ry="1.22" fill="rgb(191, 132, 41)"/>
<ellipse cx="156.0" cy="206.2" rx="1.19" ry="1.22" fill="rgb(144, 85, 22)"/>
<ellipse cx="156.2" cy="207.9" rx="0.82" ry="1.22" fill="rgb(199, 156, 69)"/>
<ellipse cx="167.3" cy="201.2" rx="0.92" ry="1.30" fill="rgb(185, 145, 64)"/>
<ellipse cx="167.4" cy="202.9" rx="1.18" ry="1.30" fill="rgb(121, 77, 23)"/>
<ellipse cx="166.9" cy="205.2" rx="1.19" ry="1.30" fill="rgb(165, 129, 57)"/>
<ellipse cx="167.2" cy="206.5" rx="0.86" ry="1.30" fill="rgb(126, 87, 27)"/>
<ellipse cx="177.1" cy="201.3" rx="1.21" ry="1.11" fill="rgb(126, 90, 31)"/>
<ellipse cx="177.6" cy="202.5" rx="1.25" ry="1.11" fill="rgb(126, 86, 27)"/>
<ellipse cx="177.0" cy="204.1" rx="1.00" ry="1.11" fill="rgb(163, 112, 35)"/>
<ellipse cx="177.6" cy="205.8" rx="1.14" ry="1.11" fill="rgb(145, 86, 22)"/>
<circle cx="177.7" cy="218.9" r="0.98" fill="rgb(80,62,36)"/>
<ellipse cx="189.0" cy="200.5" rx="1.22" ry="1.19" fill="rgb(164, 128, 56)"/>
<ellipse cx="189.0" cy="202.6" rx="1.07" ry="1.19" fill="rgb(187, 147, 65)"/>
<ellipse cx="189.9" cy="204.1" rx="0.85" ry="1.19" fill="rgb(142, 84, 22)"/>
<ellipse cx="189.4" cy="206.6" rx="0.97" ry="1.19" fill="rgb(185, 110, 29)"/>
<ellipse cx="199.3" cy="200.5" rx="1.02" ry="1.15" fill="rgb(111, 83, 46)"/>
<ellipse cx="198.9" cy="202.5" rx="0.96" ry="1.15" fill="rgb(110, 82, 46)"/>
<ellipse cx="199.0" cy="204.0" rx="1.24" ry="1.15" fill="rgb(89, 66, 37)"/>
<ellipse cx="198.6" cy="205.4" rx="1.03" ry="1.15" fill="rgb(87, 60, 18)"/>
<ellipse cx="211.0" cy="200.9" rx="0.82" ry="1.09" fill="rgb(70, 52, 29)"/>
<ellipse cx="211.5" cy="202.8" rx="1.11" ry="1.09" fill="rgb(115, 68, 18)"/>
<ellipse cx="210.7" cy="204.6" rx="1.17" ry="1.09" fill="rgb(97, 72, 40)"/>
<ellipse cx="210.5" cy="205.8" rx="0.90" ry="1.09" fill="rgb(125, 89, 31)"/>
<circle cx="209.7" cy="217.9" r="0.90" fill="rgb(80,62,36)"/>
<ellipse cx="222.4" cy="202.6" rx="1.14" ry="1.06" fill="rgb(109, 85, 38)"/>
<ellipse cx="221.7" cy="204.0" rx="0.81" ry="1.06" fill="rgb(144, 86, 22)"/>
<ellipse cx="221.6" cy="205.5" rx="1.09" ry="1.06" fill="rgb(143, 112, 49)"/>
<ellipse cx="222.4" cy="207.2" rx="1.21" ry="1.06" fill="rgb(105, 72, 22)"/>
<ellipse cx="232.0" cy="200.1" rx="1.05" ry="1.32" fill="rgb(108, 75, 23)"/>
<ellipse cx="232.3" cy="202.4" rx="0.91" ry="1.32" fill="rgb(118, 75, 22)"/>
<ellipse cx="232.8" cy="204.2" rx="1.17" ry="1.32" fill="rgb(93, 59, 17)"/>
<ellipse cx="231.8" cy="206.3" rx="0.99" ry="1.32" fill="rgb(115, 90, 40)"/>
<ellipse cx="241.7" cy="202.5" rx="0.92" ry="1.38" fill="rgb(74, 53, 18)"/>
<ellipse cx="242.5" cy="205.1" rx="0.99" ry="1.38" fill="rgb(86, 51, 13)"/>
<ellipse cx="242.3" cy="206.8" rx="0.87" ry="1.38" fill="rgb(78, 61, 27)"/>
<ellipse cx="242.0" cy="208.9" rx="0.99" ry="1.38" fill="rgb(94, 60, 18)"/>
<circle cx="242.2" cy="216.1" r="0.94" fill="rgb(80,62,36)"/>
<ellipse cx="253.7" cy="200.5" rx="0.89" ry="1.22" fill="rgb(70, 52, 29)"/>
<ellipse cx="253.9" cy="202.4" rx="1.10" ry="1.22" fill="rgb(68, 49, 17)"/>
<ellipse cx="254.7" cy="204.1" rx="1.10" ry="1.22" fill="rgb(76, 48, 14)"/>
<ellipse cx="254.1" cy="206.0" rx="1.25" ry="1.22" fill="rgb(74, 51, 16)"/>
<circle cx="253.5" cy="218.3" r="0.69" fill="rgb(80,62,36)"/>
<ellipse cx="265.2" cy="202.6" rx="1.03" ry="1.08" fill="rgb(99, 73, 41)"/>
<ellipse cx="264.3" cy="204.2" rx="1.05" ry="1.08" fill="rgb(148, 110, 62)"/>
<ellipse cx="264.1" cy="205.8" rx="1.01" ry="1.08" fill="rgb(152, 105, 32)"/>
<ellipse cx="264.6" cy="207.3" rx="0.81" ry="1.08" fill="rgb(147, 105, 36)"/>
<circle cx="265.8" cy="218.5" r="0.92" fill="rgb(80,62,36)"/>
<ellipse cx="275.9" cy="201.0" rx="0.97" ry="1.13" fill="rgb(191, 137, 47)"/>
<ellipse cx="276.0" cy="202.5" rx="0.80" ry="1.13" fill="rgb(173, 135, 60)"/>
<ellipse cx="276.5" cy="203.8" rx="0.87" ry="1.13" fill="rgb(186, 133, 46)"/>
<ellipse cx="276.5" cy="206.1" rx="0.84" ry="1.13" fill="rgb(197, 125, 37)"/>
<circle cx="275.0" cy="219.1" r="0.63" fill="rgb(80,62,36)"/>
<ellipse cx="286.2" cy="202.3" rx="1.18" ry="1.24" fill="rgb(183, 136, 76)"/>
<ellipse cx="286.0" cy="203.8" rx="0.95" ry="1.24" fill="rgb(178, 127, 44)"/>
<ellipse cx="286.2" cy="205.6" rx="1.08" ry="1.24" fill="rgb(215, 148, 46)"/>
<ellipse cx="285.8" cy="207.7" rx="1.10" ry="1.24" fill="rgb(169, 107, 32)"/>
<circle cx="286.6" cy="216.7" r="0.91" fill="rgb(80,62,36)"/>
<ellipse cx="297.7" cy="202.2" rx="1.17" ry="1.36" fill="rgb(121, 72, 19)"/>
<ellipse cx="297.5" cy="203.9" rx="0.90" ry="1.36" fill="rgb(150, 89, 23)"/>
<ellipse cx="297.6" cy="206.3" rx="0.84" ry="1.36" fill="rgb(132, 78, 20)"/>
<ellipse cx="298.0" cy="208.4" rx="0.99" ry="1.36" fill="rgb(180, 129, 45)"/>
<ellipse cx="307.8" cy="201.3" rx="1.10" ry="1.17" fill="rgb(92, 64, 20)"/>
<ellipse cx="308.2" cy="203.6" rx="1.01" ry="1.17" fill="rgb(87, 62, 21)"/>
<ellipse cx="308.2" cy="205.2" rx="0.97" ry="1.17" fill="rgb(94, 67, 23)"/>
<ellipse cx="307.9" cy="206.6" rx="0.95" ry="1.17" fill="rgb(69, 51, 29)"/>
<ellipse cx="319.8" cy="201.1" rx="1.18" ry="1.26" fill="rgb(128, 82, 24)"/>
<ellipse cx="320.4" cy="202.7" rx="0.89" ry="1.26" fill="rgb(103, 65, 19)"/>
<ellipse cx="319.9" cy="205.0" rx="0.92" ry="1.26" fill="rgb(86, 55, 16)"/>
<ellipse cx="320.6" cy="206.8" rx="0.98" ry="1.26" fill="rgb(124, 74, 19)"/>
<circle cx="319.8" cy="218.5" r="0.65" fill="rgb(80,62,36)"/>
<ellipse cx="47.1" cy="227.6" rx="0.89" ry="1.12" fill="rgb(87, 62, 21)"/>
<ellipse cx="47.5" cy="229.6" rx="1.15" ry="1.12" fill="rgb(95, 68, 23)"/>
<ellipse cx="46.5" cy="231.3" rx="1.09" ry="1.12" fill="rgb(85, 59, 18)"/>
<ellipse cx="47.0" cy="232.8" rx="1.00" ry="1.12" fill="rgb(82, 52, 15)"/>
<ellipse cx="58.8" cy="227.2" rx="0.97" ry="1.19" fill="rgb(112, 66, 17)"/>
<ellipse cx="59.3" cy="228.5" rx="1.15" ry="1.19" fill="rgb(95, 56, 15)"/>
<ellipse cx="59.5" cy="230.7" rx="1.01" ry="1.19" fill="rgb(123, 78, 23)"/>
<ellipse cx="58.5" cy="232.6" rx="1.05" ry="1.19" fill="rgb(131, 90, 28)"/>
<ellipse cx="69.1" cy="227.7" rx="1.11" ry="1.20" fill="rgb(144, 113, 50)"/>
<ellipse cx="70.1" cy="228.8" rx="0.99" ry="1.20" fill="rgb(112, 80, 28)"/>
<ellipse cx="69.3" cy="231.0" rx="0.97" ry="1.20" fill="rgb(99, 73, 41)"/>
<ellipse cx="69.1" cy="233.0" rx="0.97" ry="1.20" fill="rgb(115, 79, 24)"/>
<ellipse cx="79.1" cy="229.5" rx="1.12" ry="1.26" fill="rgb(134, 85, 25)"/>
<ellipse cx="79.2" cy="231.7" rx="0.86" ry="1.26" fill="rgb(134, 92, 28)"/>
<ellipse cx="78.9" cy="233.5" rx="1.23" ry="1.26" fill="rgb(124, 89, 31)"/>
<ellipse cx="79.3" cy="235.2" rx="0.89" ry="1.26" fill="rgb(161, 115, 40)"/>
<ellipse cx="90.9" cy="228.3" rx="0.90" ry="1.11" fill="rgb(83, 53, 16)"/>
<ellipse cx="90.8" cy="230.0" rx="1.05" ry="1.11" fill="rgb(77, 57, 32)"/>
<ellipse cx="90.6" cy="231.6" rx="1.11" ry="1.11" fill="rgb(116, 74, 22)"/>
<ellipse cx="90.7" cy="232.9" rx="1.15" ry="1.11" fill="rgb(121, 87, 30)"/>
<ellipse cx="102.1" cy="227.3" rx="1.05" ry="1.29" fill="rgb(148, 88, 23)"/>
<ellipse cx="102.7" cy="229.7" rx="1.10" ry="1.29" fill="rgb(166, 114, 35)"/>
<ellipse cx="102.1" cy="231.8" rx="0.96" ry="1.29" fill="rgb(165, 118, 41)"/>
<ellipse cx="102.9" cy="233.6" rx="0.85" ry="1.29" fill="rgb(155, 99, 29)"/>
<ellipse cx="111.3" cy="230.2" rx="1.08" ry="1.14" fill="rgb(142, 98, 30)"/>
<ellipse cx="111.2" cy="231.5" rx="0.91" ry="1.14" fill="rgb(168, 125, 70)"/>
<ellipse cx="111.5" cy="233.2" rx="0.81" ry="1.14" fill="rgb(158, 118, 66)"/>
<ellipse cx="111.2" cy="235.1" rx="1.12" ry="1.14" fill="rgb(144, 92, 27)"/>
<circle cx="113.0" cy="245.0" r="0.72" fill="rgb(80,62,36)"/>
<ellipse cx="123.9" cy="227.5" rx="1.13" ry="1.25" fill="rgb(128, 82, 24)"/>
<ellipse cx="123.4" cy="228.8" rx="1.08" ry="1.25" fill="rgb(104, 78, 43)"/>
<ellipse cx="123.4" cy="231.3" rx="0.97" ry="1.25" fill="rgb(104, 77, 43)"/>
<ellipse cx="124.2" cy="233.2" rx="1.14" ry="1.25" fill="rgb(102, 73, 25)"/>
<ellipse cx="133.7" cy="229.6" rx="1.02" ry="1.13" fill="rgb(119, 82, 25)"/>
<ellipse cx="134.2" cy="231.1" rx="0.89" ry="1.13" fill="rgb(111, 82, 46)"/>
<ellipse cx="134.1" cy="232.6" rx="0.87" ry="1.13" fill="rgb(145, 107, 60)"/>
<ellipse cx="133.8" cy="234.7" rx="1.03" ry="1.13" fill="rgb(131, 94, 32)"/>
<ellipse cx="144.8" cy="229.2" rx="1.07" ry="1.09" fill="rgb(118, 92, 40)"/>
<ellipse cx="144.4" cy="231.4" rx="0.94" ry="1.09" fill="rgb(149, 95, 28)"/>
<ellipse cx="144.2" cy="233.0" rx="1.08" ry="1.09" fill="rgb(131, 90, 28)"/>
<ellipse cx="145.0" cy="234.1" rx="0.84" ry="1.09" fill="rgb(129, 77, 20)"/>
<ellipse cx="155.5" cy="228.7" rx="0.87" ry="1.20" fill="rgb(179, 128, 44)"/>
<ellipse cx="156.4" cy="230.0" rx="0.84" ry="1.20" fill="rgb(162, 127, 56)"/>
<ellipse cx="156.4" cy="232.3" rx="1.04" ry="1.20" fill="rgb(176, 126, 44)"/>
<ellipse cx="155.9" cy="233.9" rx="1.22" ry="1.20" fill="rgb(133, 85, 25)"/>
<circle cx="155.1" cy="245.4" r="0.83" fill="rgb(80,62,36)"/>
<ellipse cx="167.1" cy="227.2" rx="0.85" ry="1.29" fill="rgb(143, 106, 60)"/>
<ellipse cx="167.6" cy="229.7" rx="0.87" ry="1.29" fill="rgb(189, 135, 47)"/>
<ellipse cx="167.3" cy="231.4" rx="1.06" ry="1.29" fill="rgb(133, 84, 25)"/>
<ellipse cx="166.6" cy="233.7" rx="0.91" ry="1.29" fill="rgb(137, 98, 34)"/>
<circle cx="166.9" cy="243.4" r="0.72" fill="rgb(80,62,36)"/>
<ellipse cx="177.2" cy="228.1" rx="1.00" ry="1.09" fill="rgb(180, 107, 28)"/>
<ellipse cx="177.2" cy="230.0" rx="0.82" ry="1.09" fill="rgb(149, 106, 37)"/>
<ellipse cx="177.6" cy="231.9" rx="0.94" ry="1.09" fill="rgb(159, 109, 34)"/>
<ellipse cx="178.3" cy="233.1" rx="1.10" ry="1.09" fill="rgb(188, 129, 40)"/>
<ellipse cx="188.4" cy="229.2" rx="1.01" ry="1.35" fill="rgb(122, 77, 23)"/>
<ellipse cx="188.4" cy="231.1" rx="0.85" ry="1.35" fill="rgb(117, 81, 25)"/>
<ellipse cx="189.2" cy="233.2" rx="0.81" ry="1.35" fill="rgb(152, 119, 52)"/>
<ellipse cx="188.9" cy="235.3" rx="0.86" ry="1.35" fill="rgb(119, 85, 29)"/>
<circle cx="189.1" cy="245.3" r="0.68" fill="rgb(80,62,36)"/>
<ellipse cx="199.9" cy="228.8" rx="0.82" ry="1.20" fill="rgb(52, 31, 8)"/>
<ellipse cx="199.3" cy="230.5" rx="1.05" ry="1.20" fill="rgb(60, 35, 9)"/>
<ellipse cx="199.4" cy="232.9" rx="1.25" ry="1.20" fill="rgb(69, 51, 28)"/>
<ellipse cx="200.2" cy="234.3" rx="1.08" ry="1.20" fill="rgb(73, 43, 11)"/>
<ellipse cx="210.4" cy="229.6" rx="0.89" ry="1.21" fill="rgb(99, 71, 24)"/>
<ellipse cx="211.1" cy="231.5" rx="1.14" ry="1.21" fill="rgb(101, 79, 35)"/>
<ellipse cx="210.4" cy="233.2" rx="0.92" ry="1.21" fill="rgb(110, 70, 21)"/>
<ellipse cx="210.5" cy="235.6" rx="0.92" ry="1.21" fill="rgb(121, 94, 42)"/>
<circle cx="210.5" cy="244.1" r="0.98" fill="rgb(80,62,36)"/>
<ellipse cx="222.5" cy="228.0" rx="1.00" ry="1.07" fill="rgb(167, 99, 26)"/>
<ellipse cx="221.6" cy="229.9" rx="1.03" ry="1.07" fill="rgb(140, 89, 26)"/>
<ellipse cx="222.4" cy="231.5" rx="1.01" ry="1.07" fill="rgb(113, 67, 17)"/>
<ellipse cx="221.6" cy="232.5" rx="1.17" ry="1.07" fill="rgb(160, 115, 40)"/>
<ellipse cx="232.2" cy="227.3" rx="1.24" ry="1.20" fill="rgb(123, 79, 23)"/>
<ellipse cx="232.6" cy="229.1" rx="1.19" ry="1.20" fill="rgb(119, 70, 18)"/>
<ellipse cx="231.9" cy="230.6" rx="1.18" ry="1.20" fill="rgb(94, 70, 39)"/>
<ellipse cx="232.6" cy="233.0" rx="1.00" ry="1.20" fill="rgb(96, 57, 15)"/>
<circle cx="232.4" cy="243.6" r="0.71" fill="rgb(80,62,36)"/>
<ellipse cx="243.3" cy="227.1" rx="0.94" ry="1.13" fill="rgb(152, 104, 32)"/>
<ellipse cx="243.8" cy="228.9" rx="1.24" ry="1.13" fill="rgb(150, 103, 32)"/>
<ellipse cx="243.9" cy="231.2" rx="1.17" ry="1.13" fill="rgb(157, 123, 54)"/>
<ellipse cx="243.0" cy="232.7" rx="1.16" ry="1.13" fill="rgb(181, 125, 39)"/>
<ellipse cx="253.1" cy="229.2" rx="0.94" ry="1.26" fill="rgb(106, 79, 44)"/>
<ellipse cx="252.8" cy="231.6" rx="1.11" ry="1.26" fill="rgb(106, 79, 44)"/>
<ellipse cx="252.8" cy="233.0" rx="0.99" ry="1.26" fill="rgb(107, 84, 37)"/>
<ellipse cx="253.4" cy="235.1" rx="0.93" ry="1.26" fill="rgb(122, 91, 51)"/>
<ellipse cx="264.7" cy="228.0" rx="0.91" ry="1.22" fill="rgb(151, 96, 29)"/>
<ellipse cx="264.9" cy="230.2" rx="1.20" ry="1.22" fill="rgb(154, 110, 38)"/>
<ellipse cx="265.0" cy="231.7" rx="1.07" ry="1.22" fill="rgb(124, 97, 43)"/>
<ellipse cx="265.1" cy="234.2" rx="1.10" ry="1.22" fill="rgb(155, 111, 38)"/>
<circle cx="264.1" cy="244.6" r="0.68" fill="rgb(80,62,36)"/>
<ellipse cx="275.2" cy="227.7" rx="0.92" ry="1.13" fill="rgb(91, 54, 14)"/>
<ellipse cx="274.8" cy="229.1" rx="1.01" ry="1.13" fill="rgb(96, 75, 33)"/>
<ellipse cx="275.6" cy="230.9" rx="1.23" ry="1.13" fill="rgb(85, 54, 16)"/>
<ellipse cx="275.1" cy="232.6" rx="1.12" ry="1.13" fill="rgb(84, 58, 18)"/>
<ellipse cx="287.0" cy="228.2" rx="1.07" ry="1.18" fill="rgb(135, 86, 25)"/>
<ellipse cx="286.7" cy="229.7" rx="0.87" ry="1.18" fill="rgb(108, 81, 45)"/>
<ellipse cx="287.1" cy="231.3" rx="0.98" ry="1.18" fill="rgb(110, 86, 38)"/>
<ellipse cx="286.8" cy="233.0" rx="1.10" ry="1.18" fill="rgb(134, 93, 29)"/>
<circle cx="286.4" cy="243.1" r="0.72" fill="rgb(80,62,36)"/>
<ellipse cx="298.1" cy="227.2" rx="0.92" ry="1.07" fill="rgb(114, 85, 47)"/>
<ellipse cx="297.8" cy="229.0" rx="1.14" ry="1.07" fill="rgb(144, 113, 50)"/>
<ellipse cx="297.3" cy="230.6" rx="0.85" ry="1.07" fill="rgb(117, 81, 25)"/>
<ellipse cx="298.0" cy="232.6" rx="0.86" ry="1.07" fill="rgb(105, 78, 44)"/>
<ellipse cx="307.6" cy="229.7" rx="0.83" ry="1.31" fill="rgb(160, 102, 30)"/>
<ellipse cx="307.4" cy="231.6" rx="1.03" ry="1.31" fill="rgb(222, 174, 77)"/>
<ellipse cx="307.7" cy="233.3" rx="1.06" ry="1.31" fill="rgb(221, 158, 55)"/>
<ellipse cx="307.8" cy="235.4" rx="0.83" ry="1.31" fill="rgb(190, 149, 66)"/>
<ellipse cx="317.7" cy="227.7" rx="1.19" ry="1.13" fill="rgb(199, 127, 38)"/>
<ellipse cx="318.3" cy="229.0" rx="1.06" ry="1.13" fill="rgb(187, 111, 29)"/>
<ellipse cx="317.7" cy="230.8" rx="0.98" ry="1.13" fill="rgb(188, 147, 65)"/>
<ellipse cx="318.3" cy="232.8" rx="1.02" ry="1.13" fill="rgb(157, 108, 33)"/>
</g></g>
<rect x="256" y="206" width="59" height="4.2" fill="#fff"/>
<text transform="translate(265.20,198.00)" x="-0.71" y="0" font-size="17.7" fill="#fff" stroke="#fff" stroke-width="0.22">50μm</text>
<rect x="395.2" y="4.4" width="286.90000000000003" height="224.29999999999998" fill="#010101"/>
<defs><linearGradient id="w0" gradientUnits="userSpaceOnUse" x1="448.2" y1="39.1" x2="446.8" y2="60.3"><stop offset="0" stop-color="#9aae50"/><stop offset="0.15" stop-color="#8a9a40"/><stop offset="0.45" stop-color="#a85018"/><stop offset="0.75" stop-color="#d88a20"/><stop offset="1" stop-color="#f4a828"/></linearGradient><linearGradient id="w1" gradientUnits="userSpaceOnUse" x1="506.9" y1="62.7" x2="507.9" y2="86.8"><stop offset="0" stop-color="#d8d8a0"/><stop offset="0.12" stop-color="#c07030"/><stop offset="0.35" stop-color="#c85818"/><stop offset="0.55" stop-color="#a89a38"/><stop offset="0.75" stop-color="#c06018"/><stop offset="1" stop-color="#f8b070"/></linearGradient><linearGradient id="w2" gradientUnits="userSpaceOnUse" x1="570.3" y1="49.9" x2="570.7" y2="76.9"><stop offset="0" stop-color="#b8c070"/><stop offset="0.2" stop-color="#a08830"/><stop offset="0.5" stop-color="#d88a20"/><stop offset="0.8" stop-color="#e8a020"/><stop offset="1" stop-color="#f8d050"/></linearGradient><linearGradient id="w3" gradientUnits="userSpaceOnUse" x1="632" y1="57.3" x2="632" y2="85"><stop offset="0" stop-color="#e0b060"/><stop offset="0.1" stop-color="#c86818"/><stop offset="0.4" stop-color="#e0901c"/><stop offset="0.6" stop-color="#b86018"/><stop offset="0.85" stop-color="#d88820"/><stop offset="1" stop-color="#e0b040"/></linearGradient><linearGradient id="w4" gradientUnits="userSpaceOnUse" x1="442.7" y1="153.8" x2="440.9" y2="180"><stop offset="0" stop-color="#e89868"/><stop offset="0.15" stop-color="#b86020"/><stop offset="0.3" stop-color="#48a020"/><stop offset="0.6" stop-color="#38b020"/><stop offset="0.78" stop-color="#d89818"/><stop offset="1" stop-color="#f0b828"/></linearGradient><linearGradient id="w5" gradientUnits="userSpaceOnUse" x1="513.2" y1="147.3" x2="508.4" y2="172.1"><stop offset="0" stop-color="#f0d0c0"/><stop offset="0.15" stop-color="#a08838"/><stop offset="0.5" stop-color="#b87020"/><stop offset="0.75" stop-color="#c84810"/><stop offset="1" stop-color="#f8d070"/></linearGradient><linearGradient id="w6" gradientUnits="userSpaceOnUse" x1="572" y1="171.4" x2="576.1" y2="195.5"><stop offset="0" stop-color="#c8d888"/><stop offset="0.3" stop-color="#48a828"/><stop offset="0.5" stop-color="#a8b040"/><stop offset="0.7" stop-color="#e06818"/><stop offset="1" stop-color="#f8a040"/></linearGradient><linearGradient id="w7" gradientUnits="userSpaceOnUse" x1="630.1" y1="166.9" x2="632.7" y2="192.1"><stop offset="0" stop-color="#b0b048"/><stop offset="0.25" stop-color="#b03818"/><stop offset="0.6" stop-color="#c81010"/><stop offset="0.9" stop-color="#c02818"/><stop offset="1" stop-color="#c8a020"/></linearGradient></defs>
<filter id="glow" x="-100%" y="-50%" width="300%" height="200%"><feGaussianBlur stdDeviation="1.6"/></filter>
<g filter="url(#glow)" opacity="0.35">
<polygon points="446.70,39.00 444.50,60.15 449.10,60.45 449.70,39.20" fill="url(#w0)"/><circle cx="448.2" cy="39.1" r="1.50" fill="#9aae50"/><circle cx="446.8" cy="60.3" r="2.30" fill="#f4a828"/>
<polygon points="505.40,62.76 506.10,86.87 509.70,86.73 508.40,62.64" fill="url(#w1)"/><circle cx="506.9" cy="62.7" r="1.50" fill="#d8d8a0"/><circle cx="507.9" cy="86.8" r="1.80" fill="#f8b070"/>
<polygon points="569.10,49.92 567.80,76.94 573.60,76.86 571.50,49.88" fill="url(#w2)"/><circle cx="570.3" cy="49.9" r="1.20" fill="#b8c070"/><circle cx="570.7" cy="76.9" r="2.90" fill="#f8d050"/>
<polygon points="629.80,57.30 629.55,85.00 634.45,85.00 634.20,57.30" fill="url(#w3)"/><circle cx="632" cy="57.3" r="2.20" fill="#e0b060"/><circle cx="632" cy="85" r="2.45" fill="#e0b040"/>
<polygon points="441.00,153.68 438.71,179.85 443.09,180.15 444.40,153.92" fill="url(#w4)"/><circle cx="442.7" cy="153.8" r="1.70" fill="#e89868"/><circle cx="440.9" cy="180" r="2.20" fill="#f0b828"/>
<polygon points="511.92,147.05 506.24,171.68 510.56,172.52 514.48,147.55" fill="url(#w5)"/><circle cx="513.2" cy="147.3" r="1.30" fill="#f0d0c0"/><circle cx="508.4" cy="172.1" r="2.20" fill="#f8d070"/>
<polygon points="570.52,171.65 573.88,195.88 578.32,195.12 573.48,171.15" fill="url(#w6)"/><circle cx="572" cy="171.4" r="1.50" fill="#c8d888"/><circle cx="576.1" cy="195.5" r="2.25" fill="#f8a040"/>
<polygon points="628.81,167.03 630.71,192.31 634.69,191.89 631.39,166.77" fill="url(#w7)"/><circle cx="630.1" cy="166.9" r="1.30" fill="#b0b048"/><circle cx="632.7" cy="192.1" r="2.00" fill="#c8a020"/>
</g>
<g filter="url(#bl2)" opacity="0.95">
<polygon points="446.70,39.00 444.50,60.15 449.10,60.45 449.70,39.20" fill="url(#w0)"/><circle cx="448.2" cy="39.1" r="1.50" fill="#9aae50"/><circle cx="446.8" cy="60.3" r="2.30" fill="#f4a828"/>
<polygon points="505.40,62.76 506.10,86.87 509.70,86.73 508.40,62.64" fill="url(#w1)"/><circle cx="506.9" cy="62.7" r="1.50" fill="#d8d8a0"/><circle cx="507.9" cy="86.8" r="1.80" fill="#f8b070"/>
<polygon points="569.10,49.92 567.80,76.94 573.60,76.86 571.50,49.88" fill="url(#w2)"/><circle cx="570.3" cy="49.9" r="1.20" fill="#b8c070"/><circle cx="570.7" cy="76.9" r="2.90" fill="#f8d050"/>
<polygon points="629.80,57.30 629.55,85.00 634.45,85.00 634.20,57.30" fill="url(#w3)"/><circle cx="632" cy="57.3" r="2.20" fill="#e0b060"/><circle cx="632" cy="85" r="2.45" fill="#e0b040"/>
<polygon points="441.00,153.68 438.71,179.85 443.09,180.15 444.40,153.92" fill="url(#w4)"/><circle cx="442.7" cy="153.8" r="1.70" fill="#e89868"/><circle cx="440.9" cy="180" r="2.20" fill="#f0b828"/>
<polygon points="511.92,147.05 506.24,171.68 510.56,172.52 514.48,147.55" fill="url(#w5)"/><circle cx="513.2" cy="147.3" r="1.30" fill="#f0d0c0"/><circle cx="508.4" cy="172.1" r="2.20" fill="#f8d070"/>
<polygon points="570.52,171.65 573.88,195.88 578.32,195.12 573.48,171.15" fill="url(#w6)"/><circle cx="572" cy="171.4" r="1.50" fill="#c8d888"/><circle cx="576.1" cy="195.5" r="2.25" fill="#f8a040"/>
<polygon points="628.81,167.03 630.71,192.31 634.69,191.89 631.39,166.77" fill="url(#w7)"/><circle cx="630.1" cy="166.9" r="1.30" fill="#b0b048"/><circle cx="632.7" cy="192.1" r="2.00" fill="#c8a020"/>
</g>
<rect x="600" y="207.4" width="58.9" height="4" fill="#fff"/>
<text transform="translate(609.00,199.00)" x="-1.35" y="0" font-size="17.7" fill="#fff" stroke="#fff" stroke-width="0.22">10μm</text>
<g stroke="#1e1e1e" stroke-width="1.4" fill="none">
<rect x="91.6" y="268.45" width="231.66" height="216.11"/>
<path d="M91.60,484.56v5M112.66,484.56v5M133.72,484.56v5M154.78,484.56v5M175.84,484.56v5M196.90,484.56v5M217.96,484.56v5M239.02,484.56v5M260.08,484.56v5M281.14,484.56v5M302.20,484.56v5M323.26,484.56v5M86.6,484.56h5M86.6,464.91h5M86.6,445.27h5M86.6,425.62h5M86.6,405.98h5M86.6,386.33h5M86.6,366.68h5M86.6,347.04h5M86.6,327.39h5M86.6,307.75h5M86.6,288.10h5M86.6,268.45h5"/></g>
<text transform="translate(92.50,513.50)" x="-4.81" y="0" font-size="17.3" fill="#111" stroke="#111" stroke-width="0.22">0</text>
<text transform="translate(133.72,513.50)" x="-4.81" y="0" font-size="17.3" fill="#111" stroke="#111" stroke-width="0.22">2</text>
<text transform="translate(175.84,513.50)" x="-4.81" y="0" font-size="17.3" fill="#111" stroke="#111" stroke-width="0.22">4</text>
<text transform="translate(217.96,513.50)" x="-4.81" y="0" font-size="17.3" fill="#111" stroke="#111" stroke-width="0.22">6</text>
<text transform="translate(260.08,513.50)" x="-4.81" y="0" font-size="17.3" fill="#111" stroke="#111" stroke-width="0.22">8</text>
<text transform="translate(302.20,513.50)" x="-9.62" y="0" font-size="17.3" fill="#111" stroke="#111" stroke-width="0.22">10</text>
<text transform="translate(78.30,490.76)" x="-9.62" y="0" font-size="17.3" fill="#111" stroke="#111" stroke-width="0.22">0</text>
<text transform="translate(78.30,451.47)" x="-19.24" y="0" font-size="17.3" fill="#111" stroke="#111" stroke-width="0.22">20</text>
<text transform="translate(78.30,412.18)" x="-19.24" y="0" font-size="17.3" fill="#111" stroke="#111" stroke-width="0.22">40</text>
<text transform="translate(78.30,372.88)" x="-19.24" y="0" font-size="17.3" fill="#111" stroke="#111" stroke-width="0.22">60</text>
<text transform="translate(78.30,333.59)" x="-19.24" y="0" font-size="17.3" fill="#111" stroke="#111" stroke-width="0.22">80</text>
<text transform="translate(78.30,294.30)" x="-28.86" y="0" font-size="17.3" fill="#111" stroke="#111" stroke-width="0.22">100</text>
<line x1="112.66" y1="288.70" x2="302.20" y2="288.70" stroke="#8e9090" stroke-width="4.4"/>
<path d="M111.19,484.56 L213.75,332.11 Q242.18,290.06 270.61,290.06 L302.20,290.06" stroke="#f58c8c" stroke-width="5" fill="none"/>
<circle cx="102.13" cy="292.03" r="5.95" fill="#fff" stroke="#9a0026" stroke-width="2.2"/>
<circle cx="112.66" cy="289.48" r="5.95" fill="#fff" stroke="#9a0026" stroke-width="2.2"/>
<circle cx="133.72" cy="288.10" r="5.95" fill="#fff" stroke="#9a0026" stroke-width="2.2"/>
<circle cx="154.78" cy="288.10" r="5.95" fill="#fff" stroke="#9a0026" stroke-width="2.2"/>
<circle cx="175.84" cy="288.10" r="5.95" fill="#fff" stroke="#9a0026" stroke-width="2.2"/>
<circle cx="196.90" cy="288.10" r="5.95" fill="#fff" stroke="#9a0026" stroke-width="2.2"/>
<circle cx="217.96" cy="288.10" r="5.95" fill="#fff" stroke="#9a0026" stroke-width="2.2"/>
<circle cx="239.02" cy="288.10" r="5.95" fill="#fff" stroke="#9a0026" stroke-width="2.2"/>
<circle cx="260.08" cy="288.10" r="5.95" fill="#fff" stroke="#9a0026" stroke-width="2.2"/>
<circle cx="102.13" cy="482.01" r="6.2" fill="#aa001f" stroke="#8a0018" stroke-width="0.8"/>
<circle cx="112.66" cy="478.08" r="6.2" fill="#aa001f" stroke="#8a0018" stroke-width="0.8"/>
<circle cx="133.72" cy="466.09" r="6.2" fill="#aa001f" stroke="#8a0018" stroke-width="0.8"/>
<circle cx="154.78" cy="412.85" r="6.2" fill="#aa001f" stroke="#8a0018" stroke-width="0.8"/>
<circle cx="175.84" cy="395.96" r="6.2" fill="#aa001f" stroke="#8a0018" stroke-width="0.8"/>
<circle cx="196.90" cy="352.54" r="6.2" fill="#aa001f" stroke="#8a0018" stroke-width="0.8"/>
<circle cx="217.96" cy="341.34" r="6.2" fill="#aa001f" stroke="#8a0018" stroke-width="0.8"/>
<circle cx="239.02" cy="323.46" r="6.2" fill="#aa001f" stroke="#8a0018" stroke-width="0.8"/>
<circle cx="260.08" cy="290.46" r="6.2" fill="#aa001f" stroke="#8a0018" stroke-width="0.8"/>
<circle cx="281.14" cy="287.71" r="6.2" fill="#aa001f" stroke="#8a0018" stroke-width="0.8"/>
<circle cx="302.20" cy="287.71" r="6.2" fill="#aa001f" stroke="#8a0018" stroke-width="0.8"/>
<circle cx="217" cy="427.4" r="5.95" fill="#fff" stroke="#9a0026" stroke-width="2.2"/>
<circle cx="217" cy="454.6" r="6.6" fill="#aa001f" stroke="#8a0018" stroke-width="0.8"/>
<text transform="translate(230.30,433.10)" x="-0.59" y="0" font-size="17.4" fill="#111" stroke="#111" stroke-width="0.22"><tspan font-style="italic">d</tspan>=100nm</text>
<text transform="translate(229.80,460.20)" x="-0.59" y="0" font-size="17.4" fill="#111" stroke="#111" stroke-width="0.22"><tspan font-style="italic">d</tspan>=625nm</text>
<text transform="translate(128.40,541.00)" x="-1.43" y="0" font-size="17.4" fill="#111" stroke="#111" stroke-width="0.22">Pattern width <tspan font-style="italic">w</tspan> (μm)</text>
<text transform="translate(37.00,482.60) rotate(-90)" x="-1.43" y="0" font-size="17.45" fill="#111" stroke="#111" stroke-width="0.22">Deposition probability (%)</text>
<g stroke="#555" stroke-width="2.0" fill="none">
<rect x="449.95" y="269.43" width="226.31" height="216.37"/>
<path d="M449.95,485.8v5M466.12,485.8v5M482.28,485.8v5M498.44,485.8v5M514.61,485.8v5M530.77,485.8v5M546.94,485.8v5M563.11,485.8v5M579.27,485.8v5M595.43,485.8v5M611.60,485.8v5M627.76,485.8v5M643.93,485.8v5M660.10,485.8v5M676.26,485.8v5M444.95,485.80h5M444.95,466.13h5M444.95,446.46h5M444.95,426.79h5M444.95,407.12h5M444.95,387.45h5M444.95,367.78h5M444.95,348.11h5M444.95,328.44h5M444.95,308.77h5M444.95,289.10h5M444.95,269.43h5"/></g>
<text transform="translate(449.95,512.90)" x="-4.81" y="0" font-size="17.3" fill="#111" stroke="#111" stroke-width="0.22">0</text>
<text transform="translate(514.61,512.90)" x="-14.43" y="0" font-size="17.3" fill="#111" stroke="#111" stroke-width="0.22">200</text>
<text transform="translate(579.27,512.90)" x="-14.43" y="0" font-size="17.3" fill="#111" stroke="#111" stroke-width="0.22">400</text>
<text transform="translate(643.93,512.90)" x="-14.43" y="0" font-size="17.3" fill="#111" stroke="#111" stroke-width="0.22">600</text>
<text transform="translate(437.30,490.60)" x="-9.62" y="0" font-size="17.3" fill="#111" stroke="#111" stroke-width="0.22">0</text>
<text transform="translate(437.30,451.48)" x="-19.24" y="0" font-size="17.3" fill="#111" stroke="#111" stroke-width="0.22">20</text>
<text transform="translate(437.30,412.36)" x="-19.24" y="0" font-size="17.3" fill="#111" stroke="#111" stroke-width="0.22">40</text>
<text transform="translate(437.30,373.24)" x="-19.24" y="0" font-size="17.3" fill="#111" stroke="#111" stroke-width="0.22">60</text>
<text transform="translate(437.30,334.12)" x="-19.24" y="0" font-size="17.3" fill="#111" stroke="#111" stroke-width="0.22">80</text>
<text transform="translate(437.30,295.00)" x="-28.86" y="0" font-size="17.3" fill="#111" stroke="#111" stroke-width="0.22">100</text>
<line x1="482.28" y1="289.10" x2="652.01" y2="289.10" stroke="#8f8f8f" stroke-width="4.4"/>
<path d="M482.28,289.10 Q567.15,363.65 652.01,467.51" stroke="#6a6af0" stroke-width="5" fill="none"/>
<circle cx="514.61" cy="289.10" r="5.8" fill="#fff" stroke="#000080" stroke-width="2.3"/>
<circle cx="546.94" cy="289.10" r="5.8" fill="#fff" stroke="#000080" stroke-width="2.3"/>
<circle cx="579.27" cy="289.10" r="5.8" fill="#fff" stroke="#000080" stroke-width="2.3"/>
<circle cx="611.60" cy="289.10" r="5.8" fill="#fff" stroke="#000080" stroke-width="2.3"/>
<circle cx="652.01" cy="289.10" r="5.8" fill="#fff" stroke="#000080" stroke-width="2.3"/>
<circle cx="482.28" cy="289.49" r="6.5" fill="#00009c" stroke="#000080" stroke-width="0.6"/>
<circle cx="514.61" cy="314.87" r="6.5" fill="#00009c" stroke="#000080" stroke-width="0.6"/>
<circle cx="546.94" cy="348.50" r="6.5" fill="#00009c" stroke="#000080" stroke-width="0.6"/>
<circle cx="579.27" cy="389.02" r="6.5" fill="#00009c" stroke="#000080" stroke-width="0.6"/>
<circle cx="611.60" cy="424.82" r="6.5" fill="#00009c" stroke="#000080" stroke-width="0.6"/>
<circle cx="652.34" cy="467.51" r="6.5" fill="#00009c" stroke="#000080" stroke-width="0.6"/>
<circle cx="475.5" cy="426" r="5.8" fill="#fff" stroke="#000080" stroke-width="2.3"/>
<circle cx="475.5" cy="453.1" r="6.6" fill="#00009c" stroke="#000080" stroke-width="0.6"/>
<text transform="translate(489.40,431.40)" x="-0.87" y="0" font-size="17.4" fill="#111" stroke="#111" stroke-width="0.22"><tspan font-style="italic">w</tspan>=10μm</text>
<text transform="translate(488.60,458.40)" x="-0.87" y="0" font-size="17.4" fill="#111" stroke="#111" stroke-width="0.22"><tspan font-style="italic">w</tspan>=2μm</text>
<text transform="translate(461.20,539.60)" x="-1.44" y="0" font-size="17.55" fill="#111" stroke="#111" stroke-width="0.22">Nanowire diameter <tspan font-style="italic">d</tspan> (nm)</text>
<text transform="translate(396.20,482.50) rotate(-90)" x="-1.43" y="0" font-size="17.4" fill="#111" stroke="#111" stroke-width="0.22">Deposition probability (%)</text>
</svg></body></html>
